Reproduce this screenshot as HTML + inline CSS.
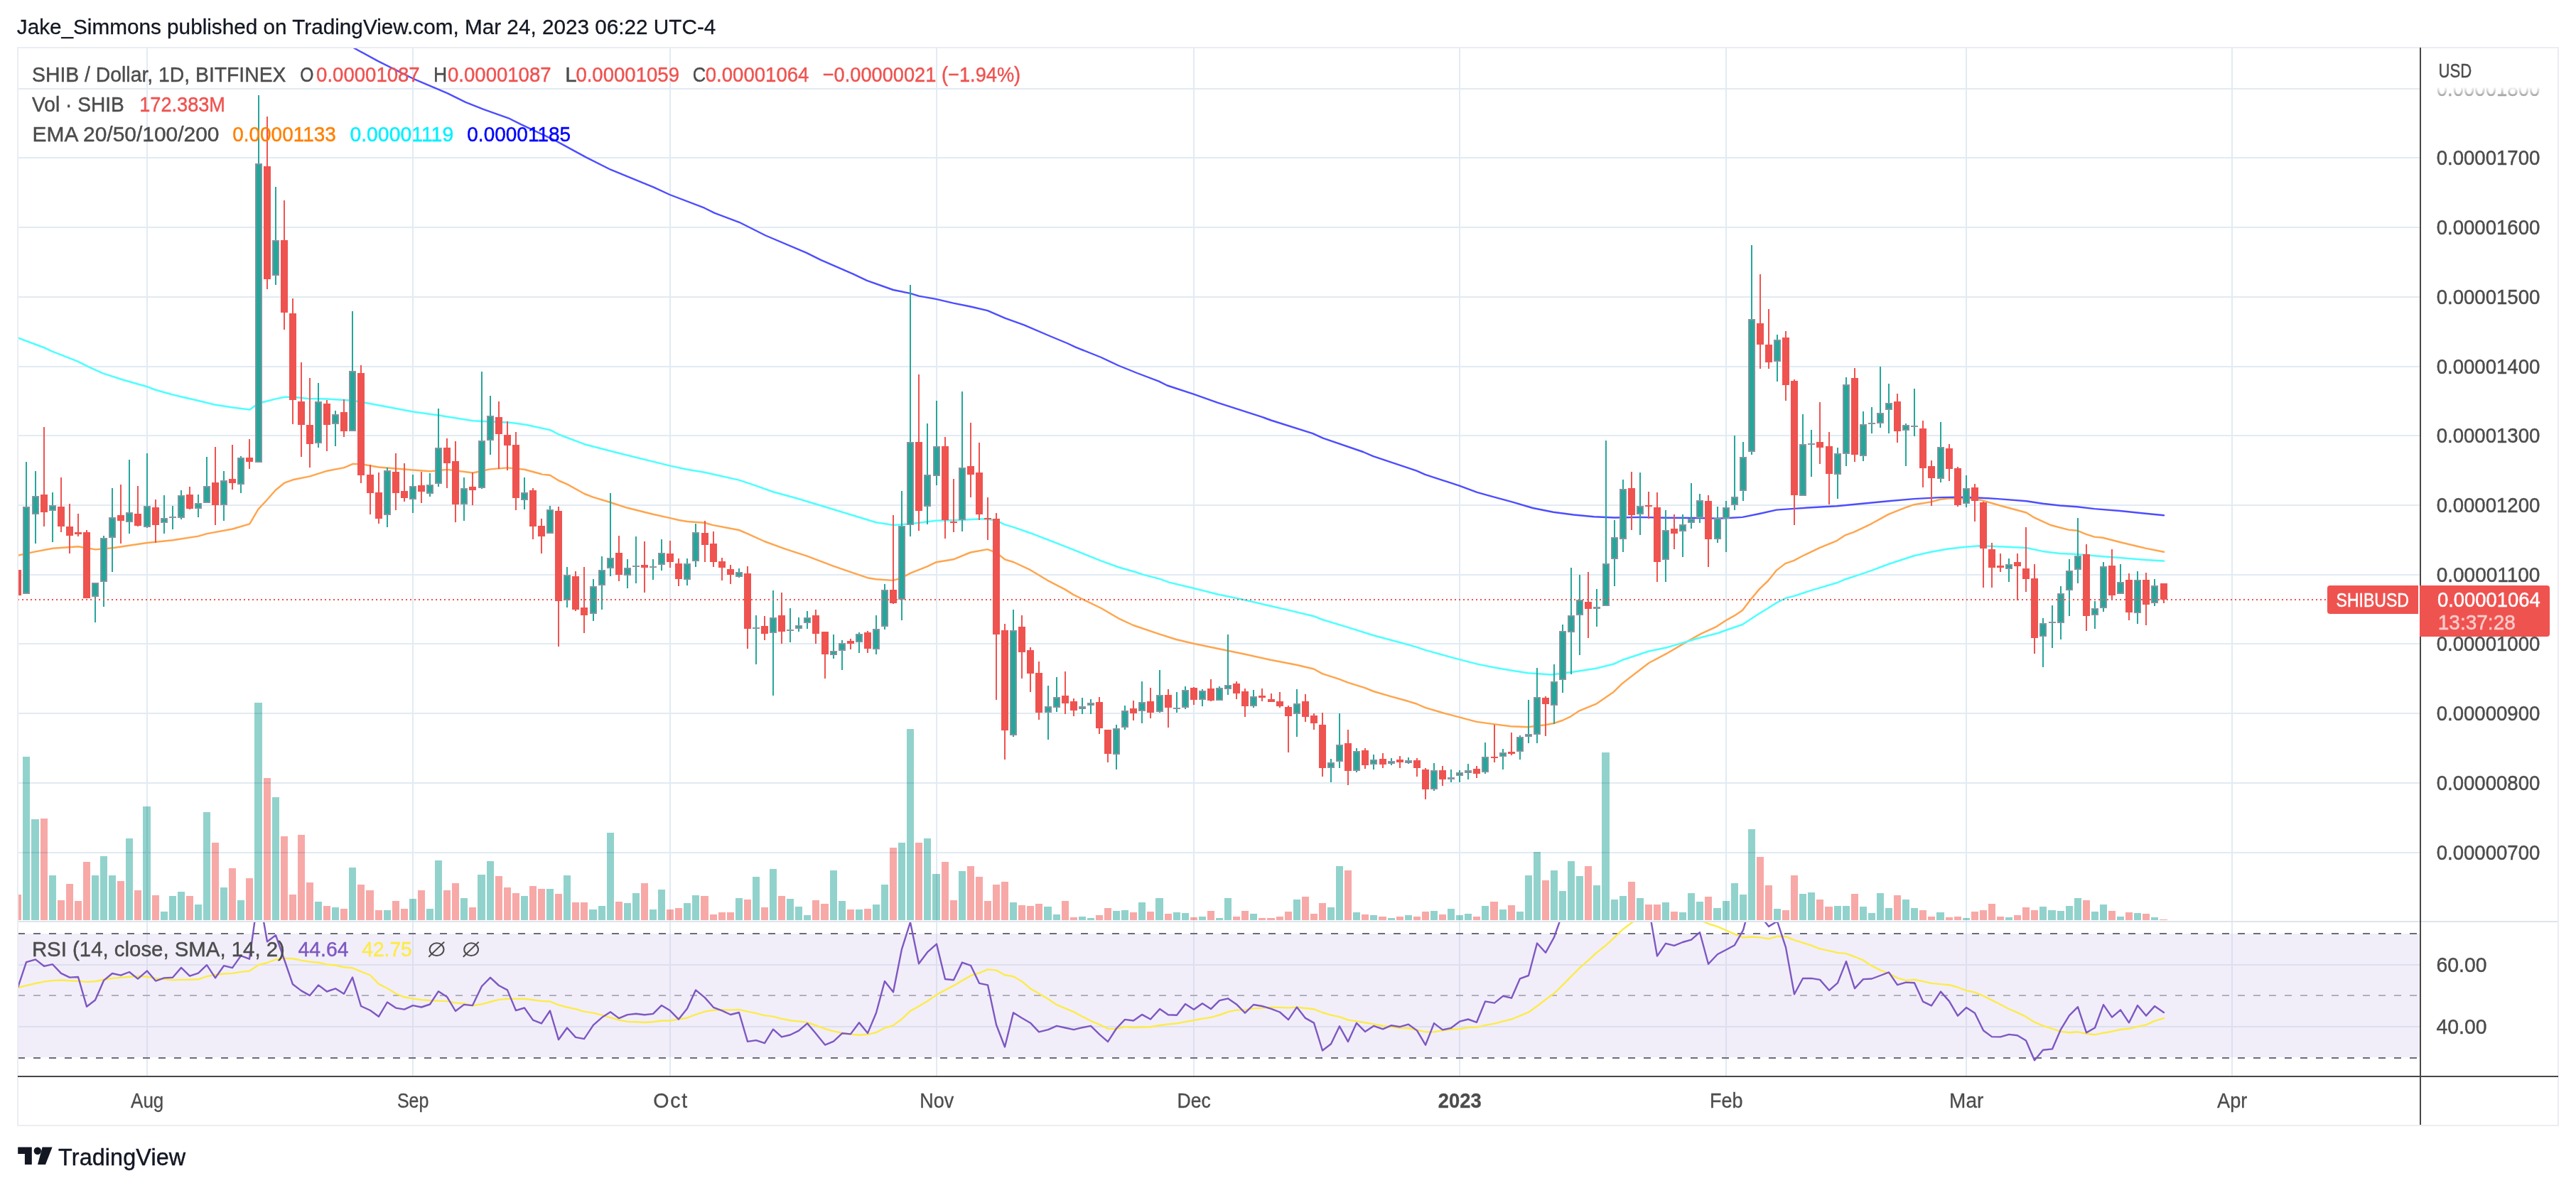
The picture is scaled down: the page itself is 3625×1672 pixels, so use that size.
<!DOCTYPE html>
<html><head><meta charset="utf-8"><title>SHIB chart</title><style>html,body{margin:0;padding:0;background:#fff}body{width:3625px;height:1672px;position:relative;overflow:hidden}</style></head><body>
<svg width="3625" height="1672" viewBox="0 0 3625 1672" style="position:absolute;left:0;top:0;font-family:'Liberation Sans',sans-serif">
<rect x="0" y="0" width="3625" height="1672" fill="#fff"/>
<defs><clipPath id="cp"><rect x="25" y="67" width="3380" height="1230"/></clipPath><clipPath id="cr"><rect x="25" y="1298" width="3380" height="216"/></clipPath></defs>
<rect x="25" y="1314" width="3380" height="174" fill="#f1eef9"/>
<g fill="#e1ebf3" shape-rendering="crispEdges">
<rect x="206" y="67" width="2" height="1447"/>
<rect x="580" y="67" width="2" height="1447"/>
<rect x="942" y="67" width="2" height="1447"/>
<rect x="1317" y="67" width="2" height="1447"/>
<rect x="1679" y="67" width="2" height="1447"/>
<rect x="2053" y="67" width="2" height="1447"/>
<rect x="2428" y="67" width="2" height="1447"/>
<rect x="2766" y="67" width="2" height="1447"/>
<rect x="3140" y="67" width="2" height="1447"/>
<rect x="25" y="1199" width="3380" height="2"/>
<rect x="25" y="1101" width="3380" height="2"/>
<rect x="25" y="1003" width="3380" height="2"/>
<rect x="25" y="905" width="3380" height="2"/>
<rect x="25" y="808" width="3380" height="2"/>
<rect x="25" y="710" width="3380" height="2"/>
<rect x="25" y="612" width="3380" height="2"/>
<rect x="25" y="515" width="3380" height="2"/>
<rect x="25" y="417" width="3380" height="2"/>
<rect x="25" y="319" width="3380" height="2"/>
<rect x="25" y="221" width="3380" height="2"/>
<rect x="25" y="124" width="3380" height="2"/>
</g>
<g fill="#dcdff0" shape-rendering="crispEdges">
<rect x="25" y="1357" width="3380" height="2"/>
<rect x="25" y="1444" width="3380" height="2"/>
<rect x="206" y="1314" width="2" height="174"/>
<rect x="580" y="1314" width="2" height="174"/>
<rect x="942" y="1314" width="2" height="174"/>
<rect x="1317" y="1314" width="2" height="174"/>
<rect x="1679" y="1314" width="2" height="174"/>
<rect x="2053" y="1314" width="2" height="174"/>
<rect x="2428" y="1314" width="2" height="174"/>
<rect x="2766" y="1314" width="2" height="174"/>
<rect x="3140" y="1314" width="2" height="174"/>
</g>
<g shape-rendering="crispEdges">
<rect x="25" y="1259.4" width="5" height="35.6" fill="#f7a9a7" fill-opacity="1" style="mix-blend-mode:multiply"/>
<rect x="32" y="1065.4" width="10" height="229.6" fill="#92d2cc" fill-opacity="1" style="mix-blend-mode:multiply"/>
<rect x="44" y="1152.5" width="11" height="142.5" fill="#92d2cc" fill-opacity="1" style="mix-blend-mode:multiply"/>
<rect x="57" y="1151.6" width="10" height="143.4" fill="#f7a9a7" fill-opacity="1" style="mix-blend-mode:multiply"/>
<rect x="69" y="1232.4" width="10" height="62.6" fill="#92d2cc" fill-opacity="1" style="mix-blend-mode:multiply"/>
<rect x="81" y="1267.3" width="10" height="27.7" fill="#f7a9a7" fill-opacity="1" style="mix-blend-mode:multiply"/>
<rect x="93" y="1243.5" width="10" height="51.5" fill="#f7a9a7" fill-opacity="1" style="mix-blend-mode:multiply"/>
<rect x="105" y="1268.3" width="10" height="26.7" fill="#f7a9a7" fill-opacity="1" style="mix-blend-mode:multiply"/>
<rect x="117" y="1213.4" width="10" height="81.6" fill="#f7a9a7" fill-opacity="1" style="mix-blend-mode:multiply"/>
<rect x="129" y="1231.5" width="10" height="63.5" fill="#92d2cc" fill-opacity="1" style="mix-blend-mode:multiply"/>
<rect x="141" y="1204.5" width="10" height="90.5" fill="#92d2cc" fill-opacity="1" style="mix-blend-mode:multiply"/>
<rect x="153" y="1232.4" width="10" height="62.6" fill="#92d2cc" fill-opacity="1" style="mix-blend-mode:multiply"/>
<rect x="165" y="1240.4" width="10" height="54.6" fill="#f7a9a7" fill-opacity="1" style="mix-blend-mode:multiply"/>
<rect x="177" y="1180.4" width="10" height="114.6" fill="#92d2cc" fill-opacity="1" style="mix-blend-mode:multiply"/>
<rect x="189" y="1253.4" width="10" height="41.6" fill="#f7a9a7" fill-opacity="1" style="mix-blend-mode:multiply"/>
<rect x="201" y="1135.4" width="11" height="159.6" fill="#92d2cc" fill-opacity="1" style="mix-blend-mode:multiply"/>
<rect x="214" y="1260.3" width="10" height="34.7" fill="#f7a9a7" fill-opacity="1" style="mix-blend-mode:multiply"/>
<rect x="226" y="1283.4" width="10" height="11.6" fill="#92d2cc" fill-opacity="1" style="mix-blend-mode:multiply"/>
<rect x="238" y="1261.3" width="10" height="33.7" fill="#92d2cc" fill-opacity="1" style="mix-blend-mode:multiply"/>
<rect x="250" y="1255.3" width="10" height="39.7" fill="#92d2cc" fill-opacity="1" style="mix-blend-mode:multiply"/>
<rect x="262" y="1261.3" width="10" height="33.7" fill="#f7a9a7" fill-opacity="1" style="mix-blend-mode:multiply"/>
<rect x="274" y="1273.3" width="10" height="21.7" fill="#92d2cc" fill-opacity="1" style="mix-blend-mode:multiply"/>
<rect x="286" y="1143.4" width="10" height="151.6" fill="#92d2cc" fill-opacity="1" style="mix-blend-mode:multiply"/>
<rect x="298" y="1185.5" width="10" height="109.5" fill="#f7a9a7" fill-opacity="1" style="mix-blend-mode:multiply"/>
<rect x="310" y="1249.3" width="10" height="45.7" fill="#92d2cc" fill-opacity="1" style="mix-blend-mode:multiply"/>
<rect x="322" y="1222.3" width="10" height="72.7" fill="#f7a9a7" fill-opacity="1" style="mix-blend-mode:multiply"/>
<rect x="334" y="1267.3" width="10" height="27.7" fill="#92d2cc" fill-opacity="1" style="mix-blend-mode:multiply"/>
<rect x="346" y="1236.3" width="10" height="58.7" fill="#f7a9a7" fill-opacity="1" style="mix-blend-mode:multiply"/>
<rect x="358" y="989.3" width="11" height="305.7" fill="#92d2cc" fill-opacity="1" style="mix-blend-mode:multiply"/>
<rect x="371" y="1094.5" width="10" height="200.5" fill="#f7a9a7" fill-opacity="1" style="mix-blend-mode:multiply"/>
<rect x="383" y="1122.4" width="10" height="172.6" fill="#92d2cc" fill-opacity="1" style="mix-blend-mode:multiply"/>
<rect x="395" y="1176.6" width="10" height="118.4" fill="#f7a9a7" fill-opacity="1" style="mix-blend-mode:multiply"/>
<rect x="407" y="1259.4" width="10" height="35.6" fill="#f7a9a7" fill-opacity="1" style="mix-blend-mode:multiply"/>
<rect x="419" y="1175.4" width="10" height="119.6" fill="#f7a9a7" fill-opacity="1" style="mix-blend-mode:multiply"/>
<rect x="431" y="1242.3" width="10" height="52.7" fill="#f7a9a7" fill-opacity="1" style="mix-blend-mode:multiply"/>
<rect x="443" y="1269.2" width="10" height="25.8" fill="#92d2cc" fill-opacity="1" style="mix-blend-mode:multiply"/>
<rect x="455" y="1275.3" width="10" height="19.7" fill="#f7a9a7" fill-opacity="1" style="mix-blend-mode:multiply"/>
<rect x="467" y="1277.4" width="10" height="17.6" fill="#92d2cc" fill-opacity="1" style="mix-blend-mode:multiply"/>
<rect x="479" y="1279.4" width="10" height="15.6" fill="#f7a9a7" fill-opacity="1" style="mix-blend-mode:multiply"/>
<rect x="491" y="1221.4" width="10" height="73.6" fill="#92d2cc" fill-opacity="1" style="mix-blend-mode:multiply"/>
<rect x="503" y="1244.5" width="10" height="50.5" fill="#f7a9a7" fill-opacity="1" style="mix-blend-mode:multiply"/>
<rect x="515" y="1253.4" width="11" height="41.6" fill="#f7a9a7" fill-opacity="1" style="mix-blend-mode:multiply"/>
<rect x="528" y="1281.3" width="10" height="13.7" fill="#f7a9a7" fill-opacity="1" style="mix-blend-mode:multiply"/>
<rect x="540" y="1281.3" width="10" height="13.7" fill="#92d2cc" fill-opacity="1" style="mix-blend-mode:multiply"/>
<rect x="552" y="1268.3" width="10" height="26.7" fill="#f7a9a7" fill-opacity="1" style="mix-blend-mode:multiply"/>
<rect x="564" y="1279.4" width="10" height="15.6" fill="#f7a9a7" fill-opacity="1" style="mix-blend-mode:multiply"/>
<rect x="576" y="1265.4" width="10" height="29.6" fill="#92d2cc" fill-opacity="1" style="mix-blend-mode:multiply"/>
<rect x="588" y="1253.4" width="10" height="41.6" fill="#f7a9a7" fill-opacity="1" style="mix-blend-mode:multiply"/>
<rect x="600" y="1279.4" width="10" height="15.6" fill="#92d2cc" fill-opacity="1" style="mix-blend-mode:multiply"/>
<rect x="612" y="1210.5" width="10" height="84.5" fill="#92d2cc" fill-opacity="1" style="mix-blend-mode:multiply"/>
<rect x="624" y="1253.4" width="10" height="41.6" fill="#f7a9a7" fill-opacity="1" style="mix-blend-mode:multiply"/>
<rect x="636" y="1243.3" width="10" height="51.7" fill="#f7a9a7" fill-opacity="1" style="mix-blend-mode:multiply"/>
<rect x="648" y="1264.2" width="10" height="30.8" fill="#92d2cc" fill-opacity="1" style="mix-blend-mode:multiply"/>
<rect x="660" y="1277.4" width="10" height="17.6" fill="#f7a9a7" fill-opacity="1" style="mix-blend-mode:multiply"/>
<rect x="672" y="1230.5" width="11" height="64.5" fill="#92d2cc" fill-opacity="1" style="mix-blend-mode:multiply"/>
<rect x="685" y="1212.4" width="10" height="82.6" fill="#92d2cc" fill-opacity="1" style="mix-blend-mode:multiply"/>
<rect x="697" y="1233.4" width="10" height="61.6" fill="#f7a9a7" fill-opacity="1" style="mix-blend-mode:multiply"/>
<rect x="709" y="1249.3" width="10" height="45.7" fill="#f7a9a7" fill-opacity="1" style="mix-blend-mode:multiply"/>
<rect x="721" y="1257.2" width="10" height="37.8" fill="#f7a9a7" fill-opacity="1" style="mix-blend-mode:multiply"/>
<rect x="733" y="1261.3" width="10" height="33.7" fill="#92d2cc" fill-opacity="1" style="mix-blend-mode:multiply"/>
<rect x="745" y="1247.3" width="10" height="47.7" fill="#f7a9a7" fill-opacity="1" style="mix-blend-mode:multiply"/>
<rect x="757" y="1251.2" width="10" height="43.8" fill="#f7a9a7" fill-opacity="1" style="mix-blend-mode:multiply"/>
<rect x="769" y="1251.2" width="10" height="43.8" fill="#92d2cc" fill-opacity="1" style="mix-blend-mode:multiply"/>
<rect x="781" y="1258.2" width="10" height="36.8" fill="#f7a9a7" fill-opacity="1" style="mix-blend-mode:multiply"/>
<rect x="793" y="1231.5" width="10" height="63.5" fill="#92d2cc" fill-opacity="1" style="mix-blend-mode:multiply"/>
<rect x="805" y="1270.2" width="10" height="24.8" fill="#f7a9a7" fill-opacity="1" style="mix-blend-mode:multiply"/>
<rect x="817" y="1270.2" width="10" height="24.8" fill="#f7a9a7" fill-opacity="1" style="mix-blend-mode:multiply"/>
<rect x="829" y="1280.3" width="11" height="14.7" fill="#92d2cc" fill-opacity="1" style="mix-blend-mode:multiply"/>
<rect x="842" y="1275.3" width="10" height="19.7" fill="#92d2cc" fill-opacity="1" style="mix-blend-mode:multiply"/>
<rect x="854" y="1172.3" width="10" height="122.7" fill="#92d2cc" fill-opacity="1" style="mix-blend-mode:multiply"/>
<rect x="866" y="1269.2" width="10" height="25.8" fill="#f7a9a7" fill-opacity="1" style="mix-blend-mode:multiply"/>
<rect x="878" y="1271.4" width="10" height="23.6" fill="#92d2cc" fill-opacity="1" style="mix-blend-mode:multiply"/>
<rect x="890" y="1257.2" width="10" height="37.8" fill="#92d2cc" fill-opacity="1" style="mix-blend-mode:multiply"/>
<rect x="902" y="1243.3" width="10" height="51.7" fill="#f7a9a7" fill-opacity="1" style="mix-blend-mode:multiply"/>
<rect x="914" y="1280.3" width="10" height="14.7" fill="#92d2cc" fill-opacity="1" style="mix-blend-mode:multiply"/>
<rect x="926" y="1252.2" width="10" height="42.8" fill="#92d2cc" fill-opacity="1" style="mix-blend-mode:multiply"/>
<rect x="938" y="1280.3" width="10" height="14.7" fill="#f7a9a7" fill-opacity="1" style="mix-blend-mode:multiply"/>
<rect x="950" y="1278.4" width="10" height="16.6" fill="#f7a9a7" fill-opacity="1" style="mix-blend-mode:multiply"/>
<rect x="962" y="1271.4" width="10" height="23.6" fill="#92d2cc" fill-opacity="1" style="mix-blend-mode:multiply"/>
<rect x="974" y="1260.3" width="10" height="34.7" fill="#92d2cc" fill-opacity="1" style="mix-blend-mode:multiply"/>
<rect x="986" y="1261.3" width="11" height="33.7" fill="#f7a9a7" fill-opacity="1" style="mix-blend-mode:multiply"/>
<rect x="999" y="1287.3" width="10" height="7.7" fill="#f7a9a7" fill-opacity="1" style="mix-blend-mode:multiply"/>
<rect x="1011" y="1284.4" width="10" height="10.6" fill="#f7a9a7" fill-opacity="1" style="mix-blend-mode:multiply"/>
<rect x="1023" y="1284.4" width="10" height="10.6" fill="#f7a9a7" fill-opacity="1" style="mix-blend-mode:multiply"/>
<rect x="1035" y="1264.2" width="10" height="30.8" fill="#92d2cc" fill-opacity="1" style="mix-blend-mode:multiply"/>
<rect x="1047" y="1266.1" width="10" height="28.9" fill="#f7a9a7" fill-opacity="1" style="mix-blend-mode:multiply"/>
<rect x="1059" y="1234.3" width="10" height="60.7" fill="#92d2cc" fill-opacity="1" style="mix-blend-mode:multiply"/>
<rect x="1071" y="1277.4" width="10" height="17.6" fill="#f7a9a7" fill-opacity="1" style="mix-blend-mode:multiply"/>
<rect x="1083" y="1223.3" width="10" height="71.7" fill="#92d2cc" fill-opacity="1" style="mix-blend-mode:multiply"/>
<rect x="1095" y="1261.3" width="10" height="33.7" fill="#f7a9a7" fill-opacity="1" style="mix-blend-mode:multiply"/>
<rect x="1107" y="1265.4" width="10" height="29.6" fill="#92d2cc" fill-opacity="1" style="mix-blend-mode:multiply"/>
<rect x="1119" y="1276.2" width="10" height="18.8" fill="#92d2cc" fill-opacity="1" style="mix-blend-mode:multiply"/>
<rect x="1131" y="1288.3" width="10" height="6.7" fill="#92d2cc" fill-opacity="1" style="mix-blend-mode:multiply"/>
<rect x="1143" y="1267.3" width="10" height="27.7" fill="#f7a9a7" fill-opacity="1" style="mix-blend-mode:multiply"/>
<rect x="1155" y="1272.4" width="11" height="22.6" fill="#f7a9a7" fill-opacity="1" style="mix-blend-mode:multiply"/>
<rect x="1168" y="1224.5" width="10" height="70.5" fill="#92d2cc" fill-opacity="1" style="mix-blend-mode:multiply"/>
<rect x="1180" y="1268.3" width="10" height="26.7" fill="#92d2cc" fill-opacity="1" style="mix-blend-mode:multiply"/>
<rect x="1192" y="1280.3" width="10" height="14.7" fill="#f7a9a7" fill-opacity="1" style="mix-blend-mode:multiply"/>
<rect x="1204" y="1280.3" width="10" height="14.7" fill="#92d2cc" fill-opacity="1" style="mix-blend-mode:multiply"/>
<rect x="1216" y="1279.4" width="10" height="15.6" fill="#f7a9a7" fill-opacity="1" style="mix-blend-mode:multiply"/>
<rect x="1228" y="1273.3" width="10" height="21.7" fill="#92d2cc" fill-opacity="1" style="mix-blend-mode:multiply"/>
<rect x="1240" y="1244.5" width="10" height="50.5" fill="#92d2cc" fill-opacity="1" style="mix-blend-mode:multiply"/>
<rect x="1252" y="1192.5" width="10" height="102.5" fill="#f7a9a7" fill-opacity="1" style="mix-blend-mode:multiply"/>
<rect x="1264" y="1185.5" width="10" height="109.5" fill="#92d2cc" fill-opacity="1" style="mix-blend-mode:multiply"/>
<rect x="1276" y="1025.7" width="10" height="269.3" fill="#92d2cc" fill-opacity="1" style="mix-blend-mode:multiply"/>
<rect x="1288" y="1185.5" width="10" height="109.5" fill="#f7a9a7" fill-opacity="1" style="mix-blend-mode:multiply"/>
<rect x="1300" y="1180.4" width="10" height="114.6" fill="#92d2cc" fill-opacity="1" style="mix-blend-mode:multiply"/>
<rect x="1312" y="1229.5" width="11" height="65.5" fill="#92d2cc" fill-opacity="1" style="mix-blend-mode:multiply"/>
<rect x="1325" y="1213.4" width="10" height="81.6" fill="#f7a9a7" fill-opacity="1" style="mix-blend-mode:multiply"/>
<rect x="1337" y="1267.3" width="10" height="27.7" fill="#f7a9a7" fill-opacity="1" style="mix-blend-mode:multiply"/>
<rect x="1349" y="1226.4" width="10" height="68.6" fill="#92d2cc" fill-opacity="1" style="mix-blend-mode:multiply"/>
<rect x="1361" y="1218.5" width="10" height="76.5" fill="#f7a9a7" fill-opacity="1" style="mix-blend-mode:multiply"/>
<rect x="1373" y="1234.3" width="10" height="60.7" fill="#f7a9a7" fill-opacity="1" style="mix-blend-mode:multiply"/>
<rect x="1385" y="1268.3" width="10" height="26.7" fill="#f7a9a7" fill-opacity="1" style="mix-blend-mode:multiply"/>
<rect x="1397" y="1244.5" width="10" height="50.5" fill="#f7a9a7" fill-opacity="1" style="mix-blend-mode:multiply"/>
<rect x="1409" y="1241.3" width="10" height="53.7" fill="#f7a9a7" fill-opacity="1" style="mix-blend-mode:multiply"/>
<rect x="1421" y="1270.2" width="10" height="24.8" fill="#92d2cc" fill-opacity="1" style="mix-blend-mode:multiply"/>
<rect x="1433" y="1274.3" width="10" height="20.7" fill="#f7a9a7" fill-opacity="1" style="mix-blend-mode:multiply"/>
<rect x="1445" y="1275.3" width="10" height="19.7" fill="#f7a9a7" fill-opacity="1" style="mix-blend-mode:multiply"/>
<rect x="1457" y="1272.4" width="10" height="22.6" fill="#f7a9a7" fill-opacity="1" style="mix-blend-mode:multiply"/>
<rect x="1469" y="1276.2" width="11" height="18.8" fill="#92d2cc" fill-opacity="1" style="mix-blend-mode:multiply"/>
<rect x="1482" y="1287.3" width="10" height="7.7" fill="#92d2cc" fill-opacity="1" style="mix-blend-mode:multiply"/>
<rect x="1494" y="1268.3" width="10" height="26.7" fill="#f7a9a7" fill-opacity="1" style="mix-blend-mode:multiply"/>
<rect x="1506" y="1291.4" width="10" height="3.6" fill="#f7a9a7" fill-opacity="1" style="mix-blend-mode:multiply"/>
<rect x="1518" y="1290.4" width="10" height="4.6" fill="#92d2cc" fill-opacity="1" style="mix-blend-mode:multiply"/>
<rect x="1530" y="1292.4" width="10" height="2.6" fill="#92d2cc" fill-opacity="1" style="mix-blend-mode:multiply"/>
<rect x="1542" y="1288.3" width="10" height="6.7" fill="#f7a9a7" fill-opacity="1" style="mix-blend-mode:multiply"/>
<rect x="1554" y="1278.4" width="10" height="16.6" fill="#f7a9a7" fill-opacity="1" style="mix-blend-mode:multiply"/>
<rect x="1566" y="1282.2" width="10" height="12.8" fill="#92d2cc" fill-opacity="1" style="mix-blend-mode:multiply"/>
<rect x="1578" y="1281.3" width="10" height="13.7" fill="#92d2cc" fill-opacity="1" style="mix-blend-mode:multiply"/>
<rect x="1590" y="1284.4" width="10" height="10.6" fill="#f7a9a7" fill-opacity="1" style="mix-blend-mode:multiply"/>
<rect x="1602" y="1270.2" width="10" height="24.8" fill="#92d2cc" fill-opacity="1" style="mix-blend-mode:multiply"/>
<rect x="1614" y="1283.4" width="10" height="11.6" fill="#f7a9a7" fill-opacity="1" style="mix-blend-mode:multiply"/>
<rect x="1626" y="1264.2" width="11" height="30.8" fill="#92d2cc" fill-opacity="1" style="mix-blend-mode:multiply"/>
<rect x="1639" y="1286.3" width="10" height="8.7" fill="#f7a9a7" fill-opacity="1" style="mix-blend-mode:multiply"/>
<rect x="1651" y="1284.4" width="10" height="10.6" fill="#92d2cc" fill-opacity="1" style="mix-blend-mode:multiply"/>
<rect x="1663" y="1285.4" width="10" height="9.6" fill="#92d2cc" fill-opacity="1" style="mix-blend-mode:multiply"/>
<rect x="1675" y="1291.4" width="10" height="3.6" fill="#f7a9a7" fill-opacity="1" style="mix-blend-mode:multiply"/>
<rect x="1687" y="1290.4" width="10" height="4.6" fill="#92d2cc" fill-opacity="1" style="mix-blend-mode:multiply"/>
<rect x="1699" y="1282.2" width="10" height="12.8" fill="#f7a9a7" fill-opacity="1" style="mix-blend-mode:multiply"/>
<rect x="1711" y="1292.4" width="10" height="2.6" fill="#92d2cc" fill-opacity="1" style="mix-blend-mode:multiply"/>
<rect x="1723" y="1264.2" width="10" height="30.8" fill="#92d2cc" fill-opacity="1" style="mix-blend-mode:multiply"/>
<rect x="1735" y="1290.4" width="10" height="4.6" fill="#f7a9a7" fill-opacity="1" style="mix-blend-mode:multiply"/>
<rect x="1747" y="1282.2" width="10" height="12.8" fill="#f7a9a7" fill-opacity="1" style="mix-blend-mode:multiply"/>
<rect x="1759" y="1286.3" width="10" height="8.7" fill="#92d2cc" fill-opacity="1" style="mix-blend-mode:multiply"/>
<rect x="1771" y="1292.4" width="10" height="2.6" fill="#f7a9a7" fill-opacity="1" style="mix-blend-mode:multiply"/>
<rect x="1783" y="1292.4" width="11" height="2.6" fill="#f7a9a7" fill-opacity="1" style="mix-blend-mode:multiply"/>
<rect x="1796" y="1290.4" width="10" height="4.6" fill="#f7a9a7" fill-opacity="1" style="mix-blend-mode:multiply"/>
<rect x="1808" y="1283.4" width="10" height="11.6" fill="#f7a9a7" fill-opacity="1" style="mix-blend-mode:multiply"/>
<rect x="1820" y="1266.4" width="10" height="28.6" fill="#92d2cc" fill-opacity="1" style="mix-blend-mode:multiply"/>
<rect x="1832" y="1262.3" width="10" height="32.7" fill="#f7a9a7" fill-opacity="1" style="mix-blend-mode:multiply"/>
<rect x="1844" y="1286.3" width="10" height="8.7" fill="#f7a9a7" fill-opacity="1" style="mix-blend-mode:multiply"/>
<rect x="1856" y="1271.4" width="10" height="23.6" fill="#f7a9a7" fill-opacity="1" style="mix-blend-mode:multiply"/>
<rect x="1868" y="1277.4" width="10" height="17.6" fill="#92d2cc" fill-opacity="1" style="mix-blend-mode:multiply"/>
<rect x="1880" y="1218.5" width="10" height="76.5" fill="#92d2cc" fill-opacity="1" style="mix-blend-mode:multiply"/>
<rect x="1892" y="1225.4" width="10" height="69.6" fill="#f7a9a7" fill-opacity="1" style="mix-blend-mode:multiply"/>
<rect x="1904" y="1284.4" width="10" height="10.6" fill="#92d2cc" fill-opacity="1" style="mix-blend-mode:multiply"/>
<rect x="1916" y="1287.3" width="10" height="7.7" fill="#f7a9a7" fill-opacity="1" style="mix-blend-mode:multiply"/>
<rect x="1928" y="1288.3" width="10" height="6.7" fill="#92d2cc" fill-opacity="1" style="mix-blend-mode:multiply"/>
<rect x="1940" y="1289.5" width="11" height="5.5" fill="#f7a9a7" fill-opacity="1" style="mix-blend-mode:multiply"/>
<rect x="1953" y="1292.4" width="10" height="2.6" fill="#92d2cc" fill-opacity="1" style="mix-blend-mode:multiply"/>
<rect x="1965" y="1289.5" width="10" height="5.5" fill="#f7a9a7" fill-opacity="1" style="mix-blend-mode:multiply"/>
<rect x="1977" y="1288.3" width="10" height="6.7" fill="#92d2cc" fill-opacity="1" style="mix-blend-mode:multiply"/>
<rect x="1989" y="1289.5" width="10" height="5.5" fill="#f7a9a7" fill-opacity="1" style="mix-blend-mode:multiply"/>
<rect x="2001" y="1283.4" width="10" height="11.6" fill="#f7a9a7" fill-opacity="1" style="mix-blend-mode:multiply"/>
<rect x="2013" y="1282.2" width="10" height="12.8" fill="#92d2cc" fill-opacity="1" style="mix-blend-mode:multiply"/>
<rect x="2025" y="1287.3" width="10" height="7.7" fill="#f7a9a7" fill-opacity="1" style="mix-blend-mode:multiply"/>
<rect x="2037" y="1279.4" width="10" height="15.6" fill="#92d2cc" fill-opacity="1" style="mix-blend-mode:multiply"/>
<rect x="2049" y="1288.3" width="10" height="6.7" fill="#92d2cc" fill-opacity="1" style="mix-blend-mode:multiply"/>
<rect x="2061" y="1286.3" width="10" height="8.7" fill="#92d2cc" fill-opacity="1" style="mix-blend-mode:multiply"/>
<rect x="2073" y="1289.5" width="10" height="5.5" fill="#f7a9a7" fill-opacity="1" style="mix-blend-mode:multiply"/>
<rect x="2085" y="1275.3" width="10" height="19.7" fill="#92d2cc" fill-opacity="1" style="mix-blend-mode:multiply"/>
<rect x="2097" y="1269.2" width="11" height="25.8" fill="#f7a9a7" fill-opacity="1" style="mix-blend-mode:multiply"/>
<rect x="2110" y="1280.3" width="10" height="14.7" fill="#92d2cc" fill-opacity="1" style="mix-blend-mode:multiply"/>
<rect x="2122" y="1274.3" width="10" height="20.7" fill="#f7a9a7" fill-opacity="1" style="mix-blend-mode:multiply"/>
<rect x="2134" y="1283.4" width="10" height="11.6" fill="#92d2cc" fill-opacity="1" style="mix-blend-mode:multiply"/>
<rect x="2146" y="1232.4" width="10" height="62.6" fill="#92d2cc" fill-opacity="1" style="mix-blend-mode:multiply"/>
<rect x="2158" y="1198.5" width="10" height="96.5" fill="#92d2cc" fill-opacity="1" style="mix-blend-mode:multiply"/>
<rect x="2170" y="1239.4" width="10" height="55.6" fill="#f7a9a7" fill-opacity="1" style="mix-blend-mode:multiply"/>
<rect x="2182" y="1224.5" width="10" height="70.5" fill="#92d2cc" fill-opacity="1" style="mix-blend-mode:multiply"/>
<rect x="2194" y="1254.3" width="10" height="40.7" fill="#92d2cc" fill-opacity="1" style="mix-blend-mode:multiply"/>
<rect x="2206" y="1212.4" width="10" height="82.6" fill="#92d2cc" fill-opacity="1" style="mix-blend-mode:multiply"/>
<rect x="2218" y="1233.4" width="10" height="61.6" fill="#92d2cc" fill-opacity="1" style="mix-blend-mode:multiply"/>
<rect x="2230" y="1219.4" width="10" height="75.6" fill="#f7a9a7" fill-opacity="1" style="mix-blend-mode:multiply"/>
<rect x="2242" y="1246.4" width="10" height="48.6" fill="#92d2cc" fill-opacity="1" style="mix-blend-mode:multiply"/>
<rect x="2254" y="1059.4" width="11" height="235.6" fill="#92d2cc" fill-opacity="1" style="mix-blend-mode:multiply"/>
<rect x="2267" y="1266.4" width="10" height="28.6" fill="#92d2cc" fill-opacity="1" style="mix-blend-mode:multiply"/>
<rect x="2279" y="1261.3" width="10" height="33.7" fill="#92d2cc" fill-opacity="1" style="mix-blend-mode:multiply"/>
<rect x="2291" y="1241.3" width="10" height="53.7" fill="#f7a9a7" fill-opacity="1" style="mix-blend-mode:multiply"/>
<rect x="2303" y="1264.2" width="10" height="30.8" fill="#92d2cc" fill-opacity="1" style="mix-blend-mode:multiply"/>
<rect x="2315" y="1273.3" width="10" height="21.7" fill="#f7a9a7" fill-opacity="1" style="mix-blend-mode:multiply"/>
<rect x="2327" y="1273.3" width="10" height="21.7" fill="#f7a9a7" fill-opacity="1" style="mix-blend-mode:multiply"/>
<rect x="2339" y="1270.2" width="10" height="24.8" fill="#92d2cc" fill-opacity="1" style="mix-blend-mode:multiply"/>
<rect x="2351" y="1283.4" width="10" height="11.6" fill="#f7a9a7" fill-opacity="1" style="mix-blend-mode:multiply"/>
<rect x="2363" y="1284.4" width="10" height="10.6" fill="#92d2cc" fill-opacity="1" style="mix-blend-mode:multiply"/>
<rect x="2375" y="1257.2" width="10" height="37.8" fill="#92d2cc" fill-opacity="1" style="mix-blend-mode:multiply"/>
<rect x="2387" y="1269.2" width="10" height="25.8" fill="#92d2cc" fill-opacity="1" style="mix-blend-mode:multiply"/>
<rect x="2399" y="1262.3" width="10" height="32.7" fill="#f7a9a7" fill-opacity="1" style="mix-blend-mode:multiply"/>
<rect x="2411" y="1278.4" width="11" height="16.6" fill="#92d2cc" fill-opacity="1" style="mix-blend-mode:multiply"/>
<rect x="2424" y="1268.3" width="10" height="26.7" fill="#92d2cc" fill-opacity="1" style="mix-blend-mode:multiply"/>
<rect x="2436" y="1242.5" width="10" height="52.5" fill="#92d2cc" fill-opacity="1" style="mix-blend-mode:multiply"/>
<rect x="2448" y="1259.4" width="10" height="35.6" fill="#92d2cc" fill-opacity="1" style="mix-blend-mode:multiply"/>
<rect x="2460" y="1166.5" width="10" height="128.5" fill="#92d2cc" fill-opacity="1" style="mix-blend-mode:multiply"/>
<rect x="2472" y="1205.5" width="10" height="89.5" fill="#f7a9a7" fill-opacity="1" style="mix-blend-mode:multiply"/>
<rect x="2484" y="1246.4" width="10" height="48.6" fill="#f7a9a7" fill-opacity="1" style="mix-blend-mode:multiply"/>
<rect x="2496" y="1279.4" width="10" height="15.6" fill="#92d2cc" fill-opacity="1" style="mix-blend-mode:multiply"/>
<rect x="2508" y="1281.3" width="10" height="13.7" fill="#f7a9a7" fill-opacity="1" style="mix-blend-mode:multiply"/>
<rect x="2520" y="1231.5" width="10" height="63.5" fill="#f7a9a7" fill-opacity="1" style="mix-blend-mode:multiply"/>
<rect x="2532" y="1258.4" width="10" height="36.6" fill="#92d2cc" fill-opacity="1" style="mix-blend-mode:multiply"/>
<rect x="2544" y="1256.2" width="10" height="38.8" fill="#92d2cc" fill-opacity="1" style="mix-blend-mode:multiply"/>
<rect x="2556" y="1266.4" width="10" height="28.6" fill="#f7a9a7" fill-opacity="1" style="mix-blend-mode:multiply"/>
<rect x="2568" y="1276.2" width="11" height="18.8" fill="#f7a9a7" fill-opacity="1" style="mix-blend-mode:multiply"/>
<rect x="2581" y="1275.3" width="10" height="19.7" fill="#92d2cc" fill-opacity="1" style="mix-blend-mode:multiply"/>
<rect x="2593" y="1275.3" width="10" height="19.7" fill="#92d2cc" fill-opacity="1" style="mix-blend-mode:multiply"/>
<rect x="2605" y="1258.4" width="10" height="36.6" fill="#f7a9a7" fill-opacity="1" style="mix-blend-mode:multiply"/>
<rect x="2617" y="1276.2" width="10" height="18.8" fill="#92d2cc" fill-opacity="1" style="mix-blend-mode:multiply"/>
<rect x="2629" y="1285.4" width="10" height="9.6" fill="#92d2cc" fill-opacity="1" style="mix-blend-mode:multiply"/>
<rect x="2641" y="1257.2" width="10" height="37.8" fill="#92d2cc" fill-opacity="1" style="mix-blend-mode:multiply"/>
<rect x="2653" y="1278.4" width="10" height="16.6" fill="#92d2cc" fill-opacity="1" style="mix-blend-mode:multiply"/>
<rect x="2665" y="1260.3" width="10" height="34.7" fill="#f7a9a7" fill-opacity="1" style="mix-blend-mode:multiply"/>
<rect x="2677" y="1266.4" width="10" height="28.6" fill="#92d2cc" fill-opacity="1" style="mix-blend-mode:multiply"/>
<rect x="2689" y="1278.4" width="10" height="16.6" fill="#92d2cc" fill-opacity="1" style="mix-blend-mode:multiply"/>
<rect x="2701" y="1281.3" width="10" height="13.7" fill="#f7a9a7" fill-opacity="1" style="mix-blend-mode:multiply"/>
<rect x="2713" y="1289.5" width="10" height="5.5" fill="#f7a9a7" fill-opacity="1" style="mix-blend-mode:multiply"/>
<rect x="2725" y="1284.4" width="11" height="10.6" fill="#92d2cc" fill-opacity="1" style="mix-blend-mode:multiply"/>
<rect x="2738" y="1291.4" width="10" height="3.6" fill="#f7a9a7" fill-opacity="1" style="mix-blend-mode:multiply"/>
<rect x="2750" y="1289.5" width="10" height="5.5" fill="#f7a9a7" fill-opacity="1" style="mix-blend-mode:multiply"/>
<rect x="2762" y="1292.4" width="10" height="2.6" fill="#92d2cc" fill-opacity="1" style="mix-blend-mode:multiply"/>
<rect x="2774" y="1283.4" width="10" height="11.6" fill="#f7a9a7" fill-opacity="1" style="mix-blend-mode:multiply"/>
<rect x="2786" y="1281.3" width="10" height="13.7" fill="#f7a9a7" fill-opacity="1" style="mix-blend-mode:multiply"/>
<rect x="2798" y="1272.4" width="10" height="22.6" fill="#f7a9a7" fill-opacity="1" style="mix-blend-mode:multiply"/>
<rect x="2810" y="1290.4" width="10" height="4.6" fill="#f7a9a7" fill-opacity="1" style="mix-blend-mode:multiply"/>
<rect x="2822" y="1291.4" width="10" height="3.6" fill="#92d2cc" fill-opacity="1" style="mix-blend-mode:multiply"/>
<rect x="2834" y="1288.3" width="10" height="6.7" fill="#f7a9a7" fill-opacity="1" style="mix-blend-mode:multiply"/>
<rect x="2846" y="1277.4" width="10" height="17.6" fill="#f7a9a7" fill-opacity="1" style="mix-blend-mode:multiply"/>
<rect x="2858" y="1281.3" width="10" height="13.7" fill="#f7a9a7" fill-opacity="1" style="mix-blend-mode:multiply"/>
<rect x="2870" y="1276.2" width="10" height="18.8" fill="#92d2cc" fill-opacity="1" style="mix-blend-mode:multiply"/>
<rect x="2882" y="1281.3" width="11" height="13.7" fill="#92d2cc" fill-opacity="1" style="mix-blend-mode:multiply"/>
<rect x="2895" y="1282.2" width="10" height="12.8" fill="#92d2cc" fill-opacity="1" style="mix-blend-mode:multiply"/>
<rect x="2907" y="1275.3" width="10" height="19.7" fill="#92d2cc" fill-opacity="1" style="mix-blend-mode:multiply"/>
<rect x="2919" y="1264.2" width="10" height="30.8" fill="#92d2cc" fill-opacity="1" style="mix-blend-mode:multiply"/>
<rect x="2931" y="1267.3" width="10" height="27.7" fill="#f7a9a7" fill-opacity="1" style="mix-blend-mode:multiply"/>
<rect x="2943" y="1283.4" width="10" height="11.6" fill="#92d2cc" fill-opacity="1" style="mix-blend-mode:multiply"/>
<rect x="2955" y="1273.3" width="10" height="21.7" fill="#92d2cc" fill-opacity="1" style="mix-blend-mode:multiply"/>
<rect x="2967" y="1282.2" width="10" height="12.8" fill="#f7a9a7" fill-opacity="1" style="mix-blend-mode:multiply"/>
<rect x="2979" y="1289.5" width="10" height="5.5" fill="#92d2cc" fill-opacity="1" style="mix-blend-mode:multiply"/>
<rect x="2991" y="1284.4" width="10" height="10.6" fill="#f7a9a7" fill-opacity="1" style="mix-blend-mode:multiply"/>
<rect x="3003" y="1285.4" width="10" height="9.6" fill="#92d2cc" fill-opacity="1" style="mix-blend-mode:multiply"/>
<rect x="3015" y="1286.3" width="10" height="8.7" fill="#f7a9a7" fill-opacity="1" style="mix-blend-mode:multiply"/>
<rect x="3027" y="1291.4" width="10" height="3.6" fill="#92d2cc" fill-opacity="1" style="mix-blend-mode:multiply"/>
<rect x="3039" y="1293.6" width="11" height="1.4" fill="#f7a9a7" fill-opacity="1" style="mix-blend-mode:multiply"/>
</g>
<polyline points="24.9,781.7 48.6,776.6 74.4,771.7 110.1,769.2 122.1,771.2 134.4,773.4 158.2,771.2 206.8,764.0 243.2,760.3 279.2,754.6 291.2,751.1 327.3,744.5 351.3,737.4 363.5,716.6 375.8,703.5 387.8,689.8 400.2,679.7 412.1,675.3 436.1,670.4 460.5,662.7 484.5,658.1 496.5,652.9 508.8,653.2 532.8,657.5 581.2,661.5 605.2,663.2 629.3,660.9 665.6,665.5 689.6,660.4 714.0,658.4 738.0,660.7 762.0,667.3 774.4,669.0 786.4,676.5 798.4,681.6 822.4,695.0 834.4,699.6 858.8,707.0 882.8,714.8 918.9,723.7 943.2,729.1 955.2,732.0 967.2,734.0 991.5,735.7 1003.5,739.1 1039.9,746.0 1051.9,751.1 1075.9,762.0 1105.8,772.9 1136.4,782.9 1172.5,796.6 1208.8,809.2 1220.8,813.2 1232.8,815.2 1256.9,816.9 1268.9,813.3 1281.2,806.6 1305.2,797.2 1317.5,791.2 1341.6,787.3 1365.6,777.5 1389.6,773.1 1401.9,777.6 1414.0,787.3 1426.0,791.0 1450.0,802.2 1474.1,816.8 1498.4,829.4 1510.4,836.9 1549.6,856.0 1574.0,870.3 1594.8,880.0 1631.2,892.3 1655.2,900.0 1679.5,905.8 1715.6,913.2 1751.9,920.7 1788.0,928.7 1824.4,935.8 1848.7,941.5 1860.7,948.1 1884.7,955.9 1896.8,960.7 1920.8,968.2 1932.8,973.0 1957.1,980.2 1981.2,986.8 1993.2,990.5 2005.5,995.9 2029.5,1003.0 2053.6,1009.4 2077.9,1015.9 2101.9,1019.1 2126.2,1022.2 2150.3,1023.3 2174.5,1020.3 2186.5,1018.0 2198.5,1014.0 2210.5,1008.3 2222.5,1000.3 2246.9,990.3 2270.9,973.7 2283.2,961.7 2320.4,933.0 2344.7,920.2 2369.0,905.9 2393.4,892.1 2415.7,881.8 2428.6,873.2 2440.0,866.9 2452.0,858.9 2464.0,843.2 2476.0,828.9 2488.0,817.5 2500.0,802.6 2512.4,793.1 2524.5,788.8 2536.5,782.5 2560.8,770.8 2584.8,761.1 2596.9,753.1 2608.9,748.8 2633.2,737.3 2657.5,723.9 2681.3,714.4 2693.3,710.2 2717.6,706.4 2729.6,703.0 2741.6,701.5 2765.7,701.5 2777.8,702.0 2790.0,704.3 2814.4,711.5 2851.6,721.5 2863.0,728.7 2886.5,739.3 2910.8,745.6 2923.0,746.7 2934.8,751.6 2947.4,755.6 2958.9,756.7 2983.2,763.0 3007.2,768.8 3019.3,771.6 3045.0,776.8" fill="none" stroke="#ffa54d" stroke-width="2.45" stroke-linejoin="round" stroke-linecap="round" clip-path="url(#cp)" stroke-opacity="1"/>
<polyline points="25.1,475.5 62.7,489.5 73.0,494.3 108.8,508.3 125.9,516.9 144.7,525.4 173.7,534.8 207.0,544.2 218.1,548.5 242.0,555.3 276.2,563.3 301.8,569.5 327.5,573.6 351.5,576.6 364.0,567.5 376.0,564.5 387.2,561.6 400.9,558.7 412.9,558.7 433.4,560.9 460.0,561.6 496.5,563.7 540.3,571.7 581.2,579.4 617.3,584.5 665.6,592.3 714.0,594.6 720.0,594.9 740.0,597.7 774.4,605.2 786.4,611.5 822.4,625.2 870.8,637.8 943.2,655.6 967.2,660.7 991.5,664.7 1039.9,675.6 1063.9,683.6 1088.0,692.2 1120.0,701.0 1160.0,713.0 1200.0,725.3 1232.9,735.3 1257.2,739.0 1281.3,737.3 1317.3,732.7 1353.6,731.8 1377.7,730.4 1389.7,730.4 1402.0,732.7 1414.0,738.4 1426.0,741.9 1450.0,750.2 1498.4,768.8 1549.6,789.4 1574.0,798.2 1600.0,805.8 1609.1,808.9 1632.4,814.9 1645.2,819.6 1680.2,828.0 1713.9,836.5 1748.9,843.8 1787.3,852.8 1812.9,858.6 1848.7,867.2 1860.7,872.0 1896.8,882.9 1932.8,894.3 1969.2,904.0 1993.2,910.6 2005.5,914.9 2029.5,921.5 2053.6,928.1 2077.9,934.4 2101.9,939.3 2126.2,943.5 2150.3,947.3 2183.0,949.4 2211.7,945.9 2246.0,940.8 2270.9,934.5 2283.2,928.8 2320.4,916.5 2344.7,911.6 2369.0,904.4 2393.4,897.3 2417.7,891.0 2428.6,887.0 2452.0,879.0 2476.0,863.2 2488.0,856.0 2500.0,848.4 2512.4,842.0 2524.5,838.9 2548.8,830.9 2584.8,820.3 2596.9,815.2 2620.9,807.4 2633.2,803.1 2657.5,794.0 2693.3,782.3 2717.6,776.8 2741.6,772.5 2765.7,769.8 2785.8,768.2 2814.4,769.3 2851.6,771.0 2874.5,775.9 2898.8,779.1 2923.0,779.9 2947.4,782.2 2983.2,785.1 3019.3,787.9 3045.0,789.6" fill="none" stroke="#4dffff" stroke-width="2.5" stroke-linejoin="round" stroke-linecap="round" clip-path="url(#cp)" stroke-opacity="1"/>
<polyline points="488.0,62.0 495.8,66.3 531.7,85.9 580.5,110.3 629.4,131.2 655.2,143.9 681.1,154.2 715.6,166.3 732.8,174.9 781.6,197.9 824.7,221.4 859.2,238.7 919.5,263.4 942.5,274.0 991.3,292.7 1005.7,299.9 1040.2,312.8 1077.5,331.5 1135.0,355.9 1155.1,365.9 1200.0,385.3 1220.0,394.8 1257.0,408.0 1281.0,412.9 1293.0,416.6 1317.0,420.9 1341.6,426.6 1365.7,431.5 1389.7,437.2 1414.6,447.8 1441.0,457.3 1477.5,473.0 1501.6,483.0 1513.6,488.7 1549.6,503.0 1574.0,514.5 1600.0,525.0 1630.7,536.6 1642.5,542.5 1680.2,554.9 1713.2,566.7 1776.8,587.2 1788.6,591.5 1847.5,610.1 1861.7,616.7 1918.2,636.0 1932.4,642.1 1993.6,662.6 2005.4,667.8 2053.7,683.6 2078.5,692.8 2100.0,698.9 2128.6,706.7 2157.0,715.0 2185.8,720.7 2214.4,724.5 2243.0,727.3 2271.7,728.5 2308.0,727.9 2344.0,728.8 2386.0,729.0 2416.7,729.6 2428.6,729.3 2452.0,727.9 2476.0,723.0 2500.0,717.6 2524.5,715.9 2548.8,714.2 2584.8,712.2 2620.9,708.7 2657.5,705.3 2693.3,702.1 2729.6,700.1 2753.6,699.6 2777.7,700.1 2811.5,702.1 2851.6,705.2 2874.5,708.7 2898.8,711.5 2923.0,713.2 2947.4,716.1 2983.2,719.0 3019.3,722.7 3045.0,725.3" fill="none" stroke="#4d4dff" stroke-width="2.4" stroke-linejoin="round" stroke-linecap="round" clip-path="url(#cp)" stroke-opacity="1"/>
<g shape-rendering="crispEdges" clip-path="url(#cp)">
<rect x="24" y="794" width="2" height="44" fill="#ef5350"/>
<rect x="20" y="802" width="10" height="36" fill="#ef5350"/>
<rect x="36" y="650" width="2" height="186" fill="#26a69a"/>
<rect x="32" y="713" width="10" height="123" fill="#9193a0"/>
<rect x="33.6" y="714.6" width="6.8" height="119.8" fill="#26a69a" shape-rendering="auto"/>
<rect x="49" y="663" width="2" height="102" fill="#26a69a"/>
<rect x="45" y="698" width="10" height="26" fill="#9193a0"/>
<rect x="46.6" y="699.6" width="6.8" height="22.8" fill="#26a69a" shape-rendering="auto"/>
<rect x="61" y="601" width="2" height="140" fill="#ef5350"/>
<rect x="57" y="696" width="10" height="25" fill="#ef5350"/>
<rect x="73" y="693" width="2" height="70" fill="#26a69a"/>
<rect x="69" y="711" width="10" height="8" fill="#9193a0"/>
<rect x="70.6" y="712.6" width="6.8" height="4.8" fill="#26a69a" shape-rendering="auto"/>
<rect x="85" y="672" width="2" height="77" fill="#ef5350"/>
<rect x="81" y="713" width="10" height="28" fill="#ef5350"/>
<rect x="97" y="709" width="2" height="70" fill="#ef5350"/>
<rect x="93" y="741" width="10" height="13" fill="#ef5350"/>
<rect x="109" y="723" width="2" height="32" fill="#ef5350"/>
<rect x="105" y="749" width="10" height="3" fill="#ef5350"/>
<rect x="121" y="746" width="2" height="96" fill="#ef5350"/>
<rect x="117" y="749" width="10" height="93" fill="#ef5350"/>
<rect x="133" y="820" width="2" height="56" fill="#26a69a"/>
<rect x="129" y="820" width="10" height="20" fill="#9193a0"/>
<rect x="130.6" y="821.6" width="6.8" height="16.8" fill="#26a69a" shape-rendering="auto"/>
<rect x="145" y="754" width="2" height="100" fill="#26a69a"/>
<rect x="141" y="757" width="10" height="62" fill="#9193a0"/>
<rect x="142.6" y="758.6" width="6.8" height="58.8" fill="#26a69a" shape-rendering="auto"/>
<rect x="157" y="687" width="2" height="118" fill="#26a69a"/>
<rect x="153" y="728" width="10" height="29" fill="#9193a0"/>
<rect x="154.6" y="729.6" width="6.8" height="25.8" fill="#26a69a" shape-rendering="auto"/>
<rect x="169" y="682" width="2" height="83" fill="#ef5350"/>
<rect x="165" y="725" width="10" height="8" fill="#ef5350"/>
<rect x="181" y="647" width="2" height="104" fill="#26a69a"/>
<rect x="177" y="721" width="10" height="14" fill="#9193a0"/>
<rect x="178.6" y="722.6" width="6.8" height="10.8" fill="#26a69a" shape-rendering="auto"/>
<rect x="193" y="684" width="2" height="57" fill="#ef5350"/>
<rect x="189" y="723" width="10" height="17" fill="#ef5350"/>
<rect x="206" y="638" width="2" height="105" fill="#26a69a"/>
<rect x="202" y="712" width="10" height="30" fill="#9193a0"/>
<rect x="203.6" y="713.6" width="6.8" height="26.8" fill="#26a69a" shape-rendering="auto"/>
<rect x="218" y="703" width="2" height="61" fill="#ef5350"/>
<rect x="214" y="714" width="10" height="25" fill="#ef5350"/>
<rect x="230" y="697" width="2" height="54" fill="#26a69a"/>
<rect x="226" y="729" width="10" height="7" fill="#9193a0"/>
<rect x="227.6" y="730.6" width="6.8" height="3.8" fill="#26a69a" shape-rendering="auto"/>
<rect x="242" y="712" width="2" height="33" fill="#26a69a"/>
<rect x="238" y="727" width="10" height="2" fill="#9193a0"/>
<rect x="254" y="690" width="2" height="41" fill="#26a69a"/>
<rect x="250" y="697" width="10" height="32" fill="#9193a0"/>
<rect x="251.6" y="698.6" width="6.8" height="28.8" fill="#26a69a" shape-rendering="auto"/>
<rect x="266" y="685" width="2" height="32" fill="#ef5350"/>
<rect x="262" y="696" width="10" height="20" fill="#ef5350"/>
<rect x="278" y="696" width="2" height="32" fill="#26a69a"/>
<rect x="274" y="708" width="10" height="8" fill="#9193a0"/>
<rect x="275.6" y="709.6" width="6.8" height="4.8" fill="#26a69a" shape-rendering="auto"/>
<rect x="290" y="643" width="2" height="65" fill="#26a69a"/>
<rect x="286" y="684" width="10" height="24" fill="#9193a0"/>
<rect x="287.6" y="685.6" width="6.8" height="20.8" fill="#26a69a" shape-rendering="auto"/>
<rect x="302" y="629" width="2" height="110" fill="#ef5350"/>
<rect x="298" y="679" width="10" height="32" fill="#ef5350"/>
<rect x="314" y="663" width="2" height="70" fill="#26a69a"/>
<rect x="310" y="676" width="10" height="35" fill="#9193a0"/>
<rect x="311.6" y="677.6" width="6.8" height="31.8" fill="#26a69a" shape-rendering="auto"/>
<rect x="326" y="626" width="2" height="63" fill="#ef5350"/>
<rect x="322" y="674" width="10" height="6" fill="#ef5350"/>
<rect x="338" y="642" width="2" height="52" fill="#26a69a"/>
<rect x="334" y="644" width="10" height="38" fill="#9193a0"/>
<rect x="335.6" y="645.6" width="6.8" height="34.8" fill="#26a69a" shape-rendering="auto"/>
<rect x="350" y="618" width="2" height="42" fill="#ef5350"/>
<rect x="346" y="644" width="10" height="6" fill="#ef5350"/>
<rect x="363" y="134" width="2" height="517" fill="#26a69a"/>
<rect x="359" y="230" width="10" height="421" fill="#9193a0"/>
<rect x="360.6" y="231.6" width="6.8" height="417.8" fill="#26a69a" shape-rendering="auto"/>
<rect x="375" y="164" width="2" height="243" fill="#ef5350"/>
<rect x="371" y="234" width="10" height="159" fill="#ef5350"/>
<rect x="387" y="263" width="2" height="138" fill="#26a69a"/>
<rect x="383" y="338" width="10" height="50" fill="#9193a0"/>
<rect x="384.6" y="339.6" width="6.8" height="46.8" fill="#26a69a" shape-rendering="auto"/>
<rect x="399" y="282" width="2" height="182" fill="#ef5350"/>
<rect x="395" y="338" width="10" height="102" fill="#ef5350"/>
<rect x="411" y="420" width="2" height="177" fill="#ef5350"/>
<rect x="407" y="441" width="10" height="122" fill="#ef5350"/>
<rect x="423" y="510" width="2" height="133" fill="#ef5350"/>
<rect x="419" y="565" width="10" height="33" fill="#ef5350"/>
<rect x="435" y="532" width="2" height="126" fill="#ef5350"/>
<rect x="431" y="598" width="10" height="27" fill="#ef5350"/>
<rect x="447" y="539" width="2" height="91" fill="#26a69a"/>
<rect x="443" y="565" width="10" height="59" fill="#9193a0"/>
<rect x="444.6" y="566.6" width="6.8" height="55.8" fill="#26a69a" shape-rendering="auto"/>
<rect x="459" y="563" width="2" height="72" fill="#ef5350"/>
<rect x="455" y="568" width="10" height="30" fill="#ef5350"/>
<rect x="471" y="578" width="2" height="50" fill="#26a69a"/>
<rect x="467" y="583" width="10" height="14" fill="#9193a0"/>
<rect x="468.6" y="584.6" width="6.8" height="10.8" fill="#26a69a" shape-rendering="auto"/>
<rect x="483" y="562" width="2" height="53" fill="#ef5350"/>
<rect x="479" y="580" width="10" height="27" fill="#ef5350"/>
<rect x="495" y="438" width="2" height="169" fill="#26a69a"/>
<rect x="491" y="522" width="10" height="85" fill="#9193a0"/>
<rect x="492.6" y="523.6" width="6.8" height="81.8" fill="#26a69a" shape-rendering="auto"/>
<rect x="507" y="514" width="2" height="166" fill="#ef5350"/>
<rect x="503" y="525" width="10" height="144" fill="#ef5350"/>
<rect x="520" y="654" width="2" height="70" fill="#ef5350"/>
<rect x="516" y="668" width="10" height="26" fill="#ef5350"/>
<rect x="532" y="665" width="2" height="72" fill="#ef5350"/>
<rect x="528" y="693" width="10" height="37" fill="#ef5350"/>
<rect x="544" y="658" width="2" height="84" fill="#26a69a"/>
<rect x="540" y="662" width="10" height="63" fill="#9193a0"/>
<rect x="541.6" y="663.6" width="6.8" height="59.8" fill="#26a69a" shape-rendering="auto"/>
<rect x="556" y="638" width="2" height="80" fill="#ef5350"/>
<rect x="552" y="664" width="10" height="30" fill="#ef5350"/>
<rect x="568" y="652" width="2" height="54" fill="#ef5350"/>
<rect x="564" y="691" width="10" height="10" fill="#ef5350"/>
<rect x="580" y="668" width="2" height="54" fill="#26a69a"/>
<rect x="576" y="684" width="10" height="19" fill="#9193a0"/>
<rect x="577.6" y="685.6" width="6.8" height="15.8" fill="#26a69a" shape-rendering="auto"/>
<rect x="592" y="664" width="2" height="44" fill="#ef5350"/>
<rect x="588" y="683" width="10" height="9" fill="#ef5350"/>
<rect x="604" y="666" width="2" height="33" fill="#26a69a"/>
<rect x="600" y="682" width="10" height="13" fill="#9193a0"/>
<rect x="601.6" y="683.6" width="6.8" height="9.8" fill="#26a69a" shape-rendering="auto"/>
<rect x="616" y="575" width="2" height="110" fill="#26a69a"/>
<rect x="612" y="630" width="10" height="51" fill="#9193a0"/>
<rect x="613.6" y="631.6" width="6.8" height="47.8" fill="#26a69a" shape-rendering="auto"/>
<rect x="628" y="617" width="2" height="70" fill="#ef5350"/>
<rect x="624" y="630" width="10" height="22" fill="#ef5350"/>
<rect x="640" y="621" width="2" height="114" fill="#ef5350"/>
<rect x="636" y="649" width="10" height="61" fill="#ef5350"/>
<rect x="652" y="672" width="2" height="61" fill="#26a69a"/>
<rect x="648" y="687" width="10" height="23" fill="#9193a0"/>
<rect x="649.6" y="688.6" width="6.8" height="19.8" fill="#26a69a" shape-rendering="auto"/>
<rect x="664" y="665" width="2" height="46" fill="#ef5350"/>
<rect x="660" y="685" width="10" height="5" fill="#ef5350"/>
<rect x="677" y="523" width="2" height="165" fill="#26a69a"/>
<rect x="673" y="620" width="10" height="67" fill="#9193a0"/>
<rect x="674.6" y="621.6" width="6.8" height="63.8" fill="#26a69a" shape-rendering="auto"/>
<rect x="689" y="557" width="2" height="83" fill="#26a69a"/>
<rect x="685" y="585" width="10" height="35" fill="#9193a0"/>
<rect x="686.6" y="586.6" width="6.8" height="31.8" fill="#26a69a" shape-rendering="auto"/>
<rect x="701" y="565" width="2" height="95" fill="#ef5350"/>
<rect x="697" y="587" width="10" height="24" fill="#ef5350"/>
<rect x="713" y="593" width="2" height="69" fill="#ef5350"/>
<rect x="709" y="612" width="10" height="15" fill="#ef5350"/>
<rect x="725" y="608" width="2" height="110" fill="#ef5350"/>
<rect x="721" y="626" width="10" height="75" fill="#ef5350"/>
<rect x="737" y="672" width="2" height="45" fill="#26a69a"/>
<rect x="733" y="693" width="10" height="11" fill="#9193a0"/>
<rect x="734.6" y="694.6" width="6.8" height="7.8" fill="#26a69a" shape-rendering="auto"/>
<rect x="749" y="687" width="2" height="72" fill="#ef5350"/>
<rect x="745" y="690" width="10" height="51" fill="#ef5350"/>
<rect x="761" y="730" width="2" height="49" fill="#ef5350"/>
<rect x="757" y="740" width="10" height="15" fill="#ef5350"/>
<rect x="773" y="712" width="2" height="39" fill="#26a69a"/>
<rect x="769" y="717" width="10" height="34" fill="#9193a0"/>
<rect x="770.6" y="718.6" width="6.8" height="30.8" fill="#26a69a" shape-rendering="auto"/>
<rect x="785" y="713" width="2" height="197" fill="#ef5350"/>
<rect x="781" y="719" width="10" height="127" fill="#ef5350"/>
<rect x="797" y="798" width="2" height="57" fill="#26a69a"/>
<rect x="793" y="809" width="10" height="36" fill="#9193a0"/>
<rect x="794.6" y="810.6" width="6.8" height="32.8" fill="#26a69a" shape-rendering="auto"/>
<rect x="809" y="804" width="2" height="56" fill="#ef5350"/>
<rect x="805" y="811" width="10" height="47" fill="#ef5350"/>
<rect x="821" y="798" width="2" height="93" fill="#ef5350"/>
<rect x="817" y="855" width="10" height="11" fill="#ef5350"/>
<rect x="834" y="815" width="2" height="59" fill="#26a69a"/>
<rect x="830" y="825" width="10" height="39" fill="#9193a0"/>
<rect x="831.6" y="826.6" width="6.8" height="35.8" fill="#26a69a" shape-rendering="auto"/>
<rect x="846" y="783" width="2" height="75" fill="#26a69a"/>
<rect x="842" y="802" width="10" height="22" fill="#9193a0"/>
<rect x="843.6" y="803.6" width="6.8" height="18.8" fill="#26a69a" shape-rendering="auto"/>
<rect x="858" y="694" width="2" height="117" fill="#26a69a"/>
<rect x="854" y="785" width="10" height="15" fill="#9193a0"/>
<rect x="855.6" y="786.6" width="6.8" height="11.8" fill="#26a69a" shape-rendering="auto"/>
<rect x="870" y="754" width="2" height="64" fill="#ef5350"/>
<rect x="866" y="778" width="10" height="31" fill="#ef5350"/>
<rect x="882" y="787" width="2" height="41" fill="#26a69a"/>
<rect x="878" y="799" width="10" height="11" fill="#9193a0"/>
<rect x="879.6" y="800.6" width="6.8" height="7.8" fill="#26a69a" shape-rendering="auto"/>
<rect x="894" y="755" width="2" height="66" fill="#26a69a"/>
<rect x="890" y="796" width="10" height="2" fill="#9193a0"/>
<rect x="906" y="762" width="2" height="72" fill="#ef5350"/>
<rect x="902" y="795" width="10" height="4" fill="#ef5350"/>
<rect x="918" y="787" width="2" height="29" fill="#26a69a"/>
<rect x="914" y="797" width="10" height="2" fill="#9193a0"/>
<rect x="930" y="759" width="2" height="44" fill="#26a69a"/>
<rect x="926" y="778" width="10" height="17" fill="#9193a0"/>
<rect x="927.6" y="779.6" width="6.8" height="13.8" fill="#26a69a" shape-rendering="auto"/>
<rect x="942" y="761" width="2" height="38" fill="#ef5350"/>
<rect x="938" y="779" width="10" height="12" fill="#ef5350"/>
<rect x="954" y="786" width="2" height="39" fill="#ef5350"/>
<rect x="950" y="793" width="10" height="22" fill="#ef5350"/>
<rect x="966" y="786" width="2" height="38" fill="#26a69a"/>
<rect x="962" y="793" width="10" height="23" fill="#9193a0"/>
<rect x="963.6" y="794.6" width="6.8" height="19.8" fill="#26a69a" shape-rendering="auto"/>
<rect x="978" y="737" width="2" height="61" fill="#26a69a"/>
<rect x="974" y="749" width="10" height="41" fill="#9193a0"/>
<rect x="975.6" y="750.6" width="6.8" height="37.8" fill="#26a69a" shape-rendering="auto"/>
<rect x="991" y="733" width="2" height="58" fill="#ef5350"/>
<rect x="987" y="750" width="10" height="17" fill="#ef5350"/>
<rect x="1003" y="748" width="2" height="50" fill="#ef5350"/>
<rect x="999" y="765" width="10" height="26" fill="#ef5350"/>
<rect x="1015" y="785" width="2" height="32" fill="#ef5350"/>
<rect x="1011" y="790" width="10" height="9" fill="#ef5350"/>
<rect x="1027" y="795" width="2" height="27" fill="#ef5350"/>
<rect x="1023" y="801" width="10" height="8" fill="#ef5350"/>
<rect x="1039" y="800" width="2" height="13" fill="#26a69a"/>
<rect x="1035" y="805" width="10" height="7" fill="#9193a0"/>
<rect x="1036.6" y="806.6" width="6.8" height="3.8" fill="#26a69a" shape-rendering="auto"/>
<rect x="1051" y="797" width="2" height="116" fill="#ef5350"/>
<rect x="1047" y="807" width="10" height="78" fill="#ef5350"/>
<rect x="1063" y="866" width="2" height="69" fill="#26a69a"/>
<rect x="1059" y="883" width="10" height="2" fill="#9193a0"/>
<rect x="1075" y="867" width="2" height="34" fill="#ef5350"/>
<rect x="1071" y="881" width="10" height="11" fill="#ef5350"/>
<rect x="1087" y="831" width="2" height="148" fill="#26a69a"/>
<rect x="1083" y="869" width="10" height="22" fill="#9193a0"/>
<rect x="1084.6" y="870.6" width="6.8" height="18.8" fill="#26a69a" shape-rendering="auto"/>
<rect x="1099" y="834" width="2" height="72" fill="#ef5350"/>
<rect x="1095" y="866" width="10" height="23" fill="#ef5350"/>
<rect x="1111" y="856" width="2" height="48" fill="#26a69a"/>
<rect x="1107" y="886" width="10" height="2" fill="#9193a0"/>
<rect x="1123" y="869" width="2" height="20" fill="#26a69a"/>
<rect x="1119" y="880" width="10" height="5" fill="#9193a0"/>
<rect x="1120.6" y="881.6" width="6.8" height="1.7999999999999998" fill="#26a69a" shape-rendering="auto"/>
<rect x="1135" y="860" width="2" height="25" fill="#26a69a"/>
<rect x="1131" y="869" width="10" height="8" fill="#9193a0"/>
<rect x="1132.6" y="870.6" width="6.8" height="4.8" fill="#26a69a" shape-rendering="auto"/>
<rect x="1147" y="858" width="2" height="48" fill="#ef5350"/>
<rect x="1143" y="866" width="10" height="26" fill="#ef5350"/>
<rect x="1160" y="889" width="2" height="66" fill="#ef5350"/>
<rect x="1156" y="889" width="10" height="32" fill="#ef5350"/>
<rect x="1172" y="893" width="2" height="34" fill="#26a69a"/>
<rect x="1168" y="916" width="10" height="6" fill="#9193a0"/>
<rect x="1169.6" y="917.6" width="6.8" height="2.8" fill="#26a69a" shape-rendering="auto"/>
<rect x="1184" y="901" width="2" height="42" fill="#26a69a"/>
<rect x="1180" y="905" width="10" height="11" fill="#9193a0"/>
<rect x="1181.6" y="906.6" width="6.8" height="7.8" fill="#26a69a" shape-rendering="auto"/>
<rect x="1196" y="899" width="2" height="15" fill="#ef5350"/>
<rect x="1192" y="902" width="10" height="4" fill="#ef5350"/>
<rect x="1208" y="890" width="2" height="29" fill="#26a69a"/>
<rect x="1204" y="892" width="10" height="12" fill="#9193a0"/>
<rect x="1205.6" y="893.6" width="6.8" height="8.8" fill="#26a69a" shape-rendering="auto"/>
<rect x="1220" y="888" width="2" height="31" fill="#ef5350"/>
<rect x="1216" y="890" width="10" height="23" fill="#ef5350"/>
<rect x="1232" y="866" width="2" height="55" fill="#26a69a"/>
<rect x="1228" y="885" width="10" height="29" fill="#9193a0"/>
<rect x="1229.6" y="886.6" width="6.8" height="25.8" fill="#26a69a" shape-rendering="auto"/>
<rect x="1244" y="822" width="2" height="64" fill="#26a69a"/>
<rect x="1240" y="830" width="10" height="52" fill="#9193a0"/>
<rect x="1241.6" y="831.6" width="6.8" height="48.8" fill="#26a69a" shape-rendering="auto"/>
<rect x="1256" y="725" width="2" height="125" fill="#ef5350"/>
<rect x="1252" y="830" width="10" height="19" fill="#ef5350"/>
<rect x="1268" y="691" width="2" height="182" fill="#26a69a"/>
<rect x="1264" y="740" width="10" height="104" fill="#9193a0"/>
<rect x="1265.6" y="741.6" width="6.8" height="100.8" fill="#26a69a" shape-rendering="auto"/>
<rect x="1280" y="401" width="2" height="354" fill="#26a69a"/>
<rect x="1276" y="622" width="10" height="117" fill="#9193a0"/>
<rect x="1277.6" y="623.6" width="6.8" height="113.8" fill="#26a69a" shape-rendering="auto"/>
<rect x="1292" y="527" width="2" height="220" fill="#ef5350"/>
<rect x="1288" y="622" width="10" height="97" fill="#ef5350"/>
<rect x="1304" y="596" width="2" height="142" fill="#26a69a"/>
<rect x="1300" y="668" width="10" height="45" fill="#9193a0"/>
<rect x="1301.6" y="669.6" width="6.8" height="41.8" fill="#26a69a" shape-rendering="auto"/>
<rect x="1317" y="564" width="2" height="119" fill="#26a69a"/>
<rect x="1313" y="628" width="10" height="42" fill="#9193a0"/>
<rect x="1314.6" y="629.6" width="6.8" height="38.8" fill="#26a69a" shape-rendering="auto"/>
<rect x="1329" y="615" width="2" height="143" fill="#ef5350"/>
<rect x="1325" y="628" width="10" height="104" fill="#ef5350"/>
<rect x="1341" y="674" width="2" height="75" fill="#ef5350"/>
<rect x="1337" y="734" width="10" height="2" fill="#ef5350"/>
<rect x="1353" y="551" width="2" height="197" fill="#26a69a"/>
<rect x="1349" y="658" width="10" height="74" fill="#9193a0"/>
<rect x="1350.6" y="659.6" width="6.8" height="70.8" fill="#26a69a" shape-rendering="auto"/>
<rect x="1365" y="595" width="2" height="105" fill="#ef5350"/>
<rect x="1361" y="656" width="10" height="12" fill="#ef5350"/>
<rect x="1377" y="623" width="2" height="109" fill="#ef5350"/>
<rect x="1373" y="665" width="10" height="59" fill="#ef5350"/>
<rect x="1389" y="700" width="2" height="60" fill="#ef5350"/>
<rect x="1385" y="729" width="10" height="2" fill="#ef5350"/>
<rect x="1401" y="722" width="2" height="263" fill="#ef5350"/>
<rect x="1397" y="730" width="10" height="163" fill="#ef5350"/>
<rect x="1413" y="878" width="2" height="191" fill="#ef5350"/>
<rect x="1409" y="887" width="10" height="141" fill="#ef5350"/>
<rect x="1425" y="858" width="2" height="179" fill="#26a69a"/>
<rect x="1421" y="887" width="10" height="148" fill="#9193a0"/>
<rect x="1422.6" y="888.6" width="6.8" height="144.8" fill="#26a69a" shape-rendering="auto"/>
<rect x="1437" y="866" width="2" height="89" fill="#ef5350"/>
<rect x="1433" y="882" width="10" height="36" fill="#ef5350"/>
<rect x="1449" y="911" width="2" height="63" fill="#ef5350"/>
<rect x="1445" y="915" width="10" height="33" fill="#ef5350"/>
<rect x="1461" y="931" width="2" height="82" fill="#ef5350"/>
<rect x="1457" y="947" width="10" height="56" fill="#ef5350"/>
<rect x="1474" y="965" width="2" height="76" fill="#26a69a"/>
<rect x="1470" y="994" width="10" height="9" fill="#9193a0"/>
<rect x="1471.6" y="995.6" width="6.8" height="5.8" fill="#26a69a" shape-rendering="auto"/>
<rect x="1486" y="953" width="2" height="49" fill="#26a69a"/>
<rect x="1482" y="981" width="10" height="15" fill="#9193a0"/>
<rect x="1483.6" y="982.6" width="6.8" height="11.8" fill="#26a69a" shape-rendering="auto"/>
<rect x="1498" y="945" width="2" height="60" fill="#ef5350"/>
<rect x="1494" y="979" width="10" height="11" fill="#ef5350"/>
<rect x="1510" y="983" width="2" height="25" fill="#ef5350"/>
<rect x="1506" y="987" width="10" height="13" fill="#ef5350"/>
<rect x="1522" y="982" width="2" height="23" fill="#26a69a"/>
<rect x="1518" y="994" width="10" height="4" fill="#9193a0"/>
<rect x="1520" y="995.5" width="6" height="1" fill="#26a69a"/>
<rect x="1534" y="984" width="2" height="21" fill="#26a69a"/>
<rect x="1530" y="989" width="10" height="4" fill="#9193a0"/>
<rect x="1532" y="990.5" width="6" height="1" fill="#26a69a"/>
<rect x="1546" y="981" width="2" height="52" fill="#ef5350"/>
<rect x="1542" y="988" width="10" height="37" fill="#ef5350"/>
<rect x="1558" y="1027" width="2" height="46" fill="#ef5350"/>
<rect x="1554" y="1027" width="10" height="34" fill="#ef5350"/>
<rect x="1570" y="1020" width="2" height="63" fill="#26a69a"/>
<rect x="1566" y="1025" width="10" height="37" fill="#9193a0"/>
<rect x="1567.6" y="1026.6" width="6.8" height="33.8" fill="#26a69a" shape-rendering="auto"/>
<rect x="1582" y="993" width="2" height="34" fill="#26a69a"/>
<rect x="1578" y="1000" width="10" height="24" fill="#9193a0"/>
<rect x="1579.6" y="1001.6" width="6.8" height="20.8" fill="#26a69a" shape-rendering="auto"/>
<rect x="1594" y="986" width="2" height="28" fill="#ef5350"/>
<rect x="1590" y="997" width="10" height="7" fill="#ef5350"/>
<rect x="1606" y="959" width="2" height="59" fill="#26a69a"/>
<rect x="1602" y="988" width="10" height="13" fill="#9193a0"/>
<rect x="1603.6" y="989.6" width="6.8" height="9.8" fill="#26a69a" shape-rendering="auto"/>
<rect x="1618" y="968" width="2" height="43" fill="#ef5350"/>
<rect x="1614" y="987" width="10" height="16" fill="#ef5350"/>
<rect x="1631" y="943" width="2" height="60" fill="#26a69a"/>
<rect x="1627" y="978" width="10" height="24" fill="#9193a0"/>
<rect x="1628.6" y="979.6" width="6.8" height="20.8" fill="#26a69a" shape-rendering="auto"/>
<rect x="1643" y="970" width="2" height="54" fill="#ef5350"/>
<rect x="1639" y="978" width="10" height="18" fill="#ef5350"/>
<rect x="1655" y="974" width="2" height="29" fill="#26a69a"/>
<rect x="1651" y="996" width="10" height="2" fill="#9193a0"/>
<rect x="1667" y="966" width="2" height="32" fill="#26a69a"/>
<rect x="1663" y="971" width="10" height="25" fill="#9193a0"/>
<rect x="1664.6" y="972.6" width="6.8" height="21.8" fill="#26a69a" shape-rendering="auto"/>
<rect x="1679" y="967" width="2" height="25" fill="#ef5350"/>
<rect x="1675" y="968" width="10" height="17" fill="#ef5350"/>
<rect x="1691" y="970" width="2" height="24" fill="#26a69a"/>
<rect x="1687" y="972" width="10" height="13" fill="#9193a0"/>
<rect x="1688.6" y="973.6" width="6.8" height="9.8" fill="#26a69a" shape-rendering="auto"/>
<rect x="1703" y="956" width="2" height="31" fill="#ef5350"/>
<rect x="1699" y="969" width="10" height="17" fill="#ef5350"/>
<rect x="1715" y="966" width="2" height="20" fill="#26a69a"/>
<rect x="1711" y="968" width="10" height="18" fill="#9193a0"/>
<rect x="1712.6" y="969.6" width="6.8" height="14.8" fill="#26a69a" shape-rendering="auto"/>
<rect x="1727" y="893" width="2" height="85" fill="#26a69a"/>
<rect x="1723" y="964" width="10" height="6" fill="#9193a0"/>
<rect x="1724.6" y="965.6" width="6.8" height="2.8" fill="#26a69a" shape-rendering="auto"/>
<rect x="1739" y="959" width="2" height="25" fill="#ef5350"/>
<rect x="1735" y="962" width="10" height="14" fill="#ef5350"/>
<rect x="1751" y="969" width="2" height="40" fill="#ef5350"/>
<rect x="1747" y="973" width="10" height="21" fill="#ef5350"/>
<rect x="1763" y="971" width="2" height="25" fill="#26a69a"/>
<rect x="1759" y="980" width="10" height="14" fill="#9193a0"/>
<rect x="1760.6" y="981.6" width="6.8" height="10.8" fill="#26a69a" shape-rendering="auto"/>
<rect x="1775" y="969" width="2" height="18" fill="#ef5350"/>
<rect x="1771" y="979" width="10" height="3" fill="#ef5350"/>
<rect x="1788" y="976" width="2" height="12" fill="#ef5350"/>
<rect x="1784" y="984" width="10" height="4" fill="#ef5350"/>
<rect x="1800" y="974" width="2" height="22" fill="#ef5350"/>
<rect x="1796" y="987" width="10" height="7" fill="#ef5350"/>
<rect x="1812" y="993" width="2" height="66" fill="#ef5350"/>
<rect x="1808" y="995" width="10" height="13" fill="#ef5350"/>
<rect x="1824" y="970" width="2" height="67" fill="#26a69a"/>
<rect x="1820" y="990" width="10" height="15" fill="#9193a0"/>
<rect x="1821.6" y="991.6" width="6.8" height="11.8" fill="#26a69a" shape-rendering="auto"/>
<rect x="1836" y="977" width="2" height="39" fill="#ef5350"/>
<rect x="1832" y="987" width="10" height="22" fill="#ef5350"/>
<rect x="1848" y="1004" width="2" height="23" fill="#ef5350"/>
<rect x="1844" y="1007" width="10" height="11" fill="#ef5350"/>
<rect x="1860" y="1003" width="2" height="90" fill="#ef5350"/>
<rect x="1856" y="1020" width="10" height="61" fill="#ef5350"/>
<rect x="1872" y="1068" width="2" height="33" fill="#26a69a"/>
<rect x="1868" y="1073" width="10" height="8" fill="#9193a0"/>
<rect x="1869.6" y="1074.6" width="6.8" height="4.8" fill="#26a69a" shape-rendering="auto"/>
<rect x="1884" y="1004" width="2" height="77" fill="#26a69a"/>
<rect x="1880" y="1048" width="10" height="24" fill="#9193a0"/>
<rect x="1881.6" y="1049.6" width="6.8" height="20.8" fill="#26a69a" shape-rendering="auto"/>
<rect x="1896" y="1027" width="2" height="78" fill="#ef5350"/>
<rect x="1892" y="1046" width="10" height="39" fill="#ef5350"/>
<rect x="1908" y="1053" width="2" height="34" fill="#26a69a"/>
<rect x="1904" y="1057" width="10" height="28" fill="#9193a0"/>
<rect x="1905.6" y="1058.6" width="6.8" height="24.8" fill="#26a69a" shape-rendering="auto"/>
<rect x="1920" y="1053" width="2" height="29" fill="#ef5350"/>
<rect x="1916" y="1056" width="10" height="21" fill="#ef5350"/>
<rect x="1932" y="1062" width="2" height="21" fill="#26a69a"/>
<rect x="1928" y="1069" width="10" height="7" fill="#9193a0"/>
<rect x="1929.6" y="1070.6" width="6.8" height="3.8" fill="#26a69a" shape-rendering="auto"/>
<rect x="1945" y="1060" width="2" height="21" fill="#ef5350"/>
<rect x="1941" y="1068" width="10" height="8" fill="#ef5350"/>
<rect x="1957" y="1067" width="2" height="10" fill="#26a69a"/>
<rect x="1953" y="1071" width="10" height="4" fill="#9193a0"/>
<rect x="1955" y="1072.5" width="6" height="1" fill="#26a69a"/>
<rect x="1969" y="1064" width="2" height="17" fill="#ef5350"/>
<rect x="1965" y="1069" width="10" height="4" fill="#ef5350"/>
<rect x="1981" y="1066" width="2" height="9" fill="#26a69a"/>
<rect x="1977" y="1070" width="10" height="4" fill="#9193a0"/>
<rect x="1979" y="1071.5" width="6" height="1" fill="#26a69a"/>
<rect x="1993" y="1067" width="2" height="26" fill="#ef5350"/>
<rect x="1989" y="1070" width="10" height="11" fill="#ef5350"/>
<rect x="2005" y="1081" width="2" height="44" fill="#ef5350"/>
<rect x="2001" y="1083" width="10" height="28" fill="#ef5350"/>
<rect x="2017" y="1074" width="2" height="39" fill="#26a69a"/>
<rect x="2013" y="1084" width="10" height="27" fill="#9193a0"/>
<rect x="2014.6" y="1085.6" width="6.8" height="23.8" fill="#26a69a" shape-rendering="auto"/>
<rect x="2029" y="1078" width="2" height="28" fill="#ef5350"/>
<rect x="2025" y="1084" width="10" height="13" fill="#ef5350"/>
<rect x="2041" y="1083" width="2" height="18" fill="#26a69a"/>
<rect x="2037" y="1094" width="10" height="3" fill="#9193a0"/>
<rect x="2053" y="1084" width="2" height="17" fill="#26a69a"/>
<rect x="2049" y="1087" width="10" height="5" fill="#9193a0"/>
<rect x="2050.6" y="1088.6" width="6.8" height="1.7999999999999998" fill="#26a69a" shape-rendering="auto"/>
<rect x="2065" y="1075" width="2" height="22" fill="#26a69a"/>
<rect x="2061" y="1084" width="10" height="4" fill="#9193a0"/>
<rect x="2063" y="1085.5" width="6" height="1" fill="#26a69a"/>
<rect x="2077" y="1078" width="2" height="17" fill="#ef5350"/>
<rect x="2073" y="1082" width="10" height="7" fill="#ef5350"/>
<rect x="2089" y="1045" width="2" height="44" fill="#26a69a"/>
<rect x="2085" y="1065" width="10" height="22" fill="#9193a0"/>
<rect x="2086.6" y="1066.6" width="6.8" height="18.8" fill="#26a69a" shape-rendering="auto"/>
<rect x="2102" y="1020" width="2" height="53" fill="#ef5350"/>
<rect x="2098" y="1065" width="10" height="2" fill="#ef5350"/>
<rect x="2114" y="1054" width="2" height="29" fill="#26a69a"/>
<rect x="2110" y="1059" width="10" height="6" fill="#9193a0"/>
<rect x="2111.6" y="1060.6" width="6.8" height="2.8" fill="#26a69a" shape-rendering="auto"/>
<rect x="2126" y="1031" width="2" height="32" fill="#ef5350"/>
<rect x="2122" y="1058" width="10" height="3" fill="#ef5350"/>
<rect x="2138" y="1035" width="2" height="34" fill="#26a69a"/>
<rect x="2134" y="1037" width="10" height="21" fill="#9193a0"/>
<rect x="2135.6" y="1038.6" width="6.8" height="17.8" fill="#26a69a" shape-rendering="auto"/>
<rect x="2150" y="985" width="2" height="61" fill="#26a69a"/>
<rect x="2146" y="1033" width="10" height="4" fill="#9193a0"/>
<rect x="2148" y="1034.5" width="6" height="1" fill="#26a69a"/>
<rect x="2162" y="940" width="2" height="106" fill="#26a69a"/>
<rect x="2158" y="981" width="10" height="53" fill="#9193a0"/>
<rect x="2159.6" y="982.6" width="6.8" height="49.8" fill="#26a69a" shape-rendering="auto"/>
<rect x="2174" y="980" width="2" height="56" fill="#ef5350"/>
<rect x="2170" y="982" width="10" height="9" fill="#ef5350"/>
<rect x="2186" y="935" width="2" height="84" fill="#26a69a"/>
<rect x="2182" y="959" width="10" height="34" fill="#9193a0"/>
<rect x="2183.6" y="960.6" width="6.8" height="30.8" fill="#26a69a" shape-rendering="auto"/>
<rect x="2198" y="879" width="2" height="96" fill="#26a69a"/>
<rect x="2194" y="888" width="10" height="69" fill="#9193a0"/>
<rect x="2195.6" y="889.6" width="6.8" height="65.8" fill="#26a69a" shape-rendering="auto"/>
<rect x="2210" y="799" width="2" height="150" fill="#26a69a"/>
<rect x="2206" y="866" width="10" height="24" fill="#9193a0"/>
<rect x="2207.6" y="867.6" width="6.8" height="20.8" fill="#26a69a" shape-rendering="auto"/>
<rect x="2222" y="809" width="2" height="113" fill="#26a69a"/>
<rect x="2218" y="844" width="10" height="22" fill="#9193a0"/>
<rect x="2219.6" y="845.6" width="6.8" height="18.8" fill="#26a69a" shape-rendering="auto"/>
<rect x="2234" y="805" width="2" height="93" fill="#ef5350"/>
<rect x="2230" y="847" width="10" height="10" fill="#ef5350"/>
<rect x="2246" y="829" width="2" height="53" fill="#26a69a"/>
<rect x="2242" y="854" width="10" height="3" fill="#9193a0"/>
<rect x="2259" y="620" width="2" height="233" fill="#26a69a"/>
<rect x="2255" y="793" width="10" height="60" fill="#9193a0"/>
<rect x="2256.6" y="794.6" width="6.8" height="56.8" fill="#26a69a" shape-rendering="auto"/>
<rect x="2271" y="732" width="2" height="93" fill="#26a69a"/>
<rect x="2267" y="756" width="10" height="31" fill="#9193a0"/>
<rect x="2268.6" y="757.6" width="6.8" height="27.8" fill="#26a69a" shape-rendering="auto"/>
<rect x="2283" y="675" width="2" height="102" fill="#26a69a"/>
<rect x="2279" y="688" width="10" height="71" fill="#9193a0"/>
<rect x="2280.6" y="689.6" width="6.8" height="67.8" fill="#26a69a" shape-rendering="auto"/>
<rect x="2295" y="664" width="2" height="82" fill="#ef5350"/>
<rect x="2291" y="687" width="10" height="38" fill="#ef5350"/>
<rect x="2307" y="665" width="2" height="88" fill="#26a69a"/>
<rect x="2303" y="712" width="10" height="12" fill="#9193a0"/>
<rect x="2304.6" y="713.6" width="6.8" height="8.8" fill="#26a69a" shape-rendering="auto"/>
<rect x="2319" y="692" width="2" height="38" fill="#ef5350"/>
<rect x="2315" y="711" width="10" height="2" fill="#ef5350"/>
<rect x="2331" y="693" width="2" height="126" fill="#ef5350"/>
<rect x="2327" y="714" width="10" height="77" fill="#ef5350"/>
<rect x="2343" y="718" width="2" height="101" fill="#26a69a"/>
<rect x="2339" y="746" width="10" height="42" fill="#9193a0"/>
<rect x="2340.6" y="747.6" width="6.8" height="38.8" fill="#26a69a" shape-rendering="auto"/>
<rect x="2355" y="724" width="2" height="49" fill="#ef5350"/>
<rect x="2351" y="744" width="10" height="7" fill="#ef5350"/>
<rect x="2367" y="724" width="2" height="60" fill="#26a69a"/>
<rect x="2363" y="738" width="10" height="10" fill="#9193a0"/>
<rect x="2364.6" y="739.6" width="6.8" height="6.8" fill="#26a69a" shape-rendering="auto"/>
<rect x="2379" y="680" width="2" height="64" fill="#26a69a"/>
<rect x="2375" y="730" width="10" height="6" fill="#9193a0"/>
<rect x="2376.6" y="731.6" width="6.8" height="2.8" fill="#26a69a" shape-rendering="auto"/>
<rect x="2391" y="695" width="2" height="41" fill="#26a69a"/>
<rect x="2387" y="704" width="10" height="25" fill="#9193a0"/>
<rect x="2388.6" y="705.6" width="6.8" height="21.8" fill="#26a69a" shape-rendering="auto"/>
<rect x="2403" y="697" width="2" height="101" fill="#ef5350"/>
<rect x="2399" y="705" width="10" height="54" fill="#ef5350"/>
<rect x="2416" y="713" width="2" height="51" fill="#26a69a"/>
<rect x="2412" y="729" width="10" height="30" fill="#9193a0"/>
<rect x="2413.6" y="730.6" width="6.8" height="26.8" fill="#26a69a" shape-rendering="auto"/>
<rect x="2428" y="705" width="2" height="72" fill="#26a69a"/>
<rect x="2424" y="714" width="10" height="16" fill="#9193a0"/>
<rect x="2425.6" y="715.6" width="6.8" height="12.8" fill="#26a69a" shape-rendering="auto"/>
<rect x="2440" y="613" width="2" height="105" fill="#26a69a"/>
<rect x="2436" y="699" width="10" height="12" fill="#9193a0"/>
<rect x="2437.6" y="700.6" width="6.8" height="8.8" fill="#26a69a" shape-rendering="auto"/>
<rect x="2452" y="622" width="2" height="83" fill="#26a69a"/>
<rect x="2448" y="643" width="10" height="48" fill="#9193a0"/>
<rect x="2449.6" y="644.6" width="6.8" height="44.8" fill="#26a69a" shape-rendering="auto"/>
<rect x="2464" y="345" width="2" height="295" fill="#26a69a"/>
<rect x="2460" y="449" width="10" height="187" fill="#9193a0"/>
<rect x="2461.6" y="450.6" width="6.8" height="183.8" fill="#26a69a" shape-rendering="auto"/>
<rect x="2476" y="386" width="2" height="133" fill="#ef5350"/>
<rect x="2472" y="455" width="10" height="30" fill="#ef5350"/>
<rect x="2488" y="435" width="2" height="84" fill="#ef5350"/>
<rect x="2484" y="485" width="10" height="25" fill="#ef5350"/>
<rect x="2500" y="471" width="2" height="66" fill="#26a69a"/>
<rect x="2496" y="478" width="10" height="31" fill="#9193a0"/>
<rect x="2497.6" y="479.6" width="6.8" height="27.8" fill="#26a69a" shape-rendering="auto"/>
<rect x="2512" y="466" width="2" height="98" fill="#ef5350"/>
<rect x="2508" y="475" width="10" height="67" fill="#ef5350"/>
<rect x="2524" y="534" width="2" height="205" fill="#ef5350"/>
<rect x="2520" y="536" width="10" height="161" fill="#ef5350"/>
<rect x="2536" y="583" width="2" height="115" fill="#26a69a"/>
<rect x="2532" y="625" width="10" height="73" fill="#9193a0"/>
<rect x="2533.6" y="626.6" width="6.8" height="69.8" fill="#26a69a" shape-rendering="auto"/>
<rect x="2548" y="605" width="2" height="66" fill="#26a69a"/>
<rect x="2544" y="624" width="10" height="2" fill="#9193a0"/>
<rect x="2560" y="566" width="2" height="87" fill="#ef5350"/>
<rect x="2556" y="622" width="10" height="8" fill="#ef5350"/>
<rect x="2573" y="608" width="2" height="102" fill="#ef5350"/>
<rect x="2569" y="628" width="10" height="39" fill="#ef5350"/>
<rect x="2585" y="630" width="2" height="72" fill="#26a69a"/>
<rect x="2581" y="638" width="10" height="30" fill="#9193a0"/>
<rect x="2582.6" y="639.6" width="6.8" height="26.8" fill="#26a69a" shape-rendering="auto"/>
<rect x="2597" y="531" width="2" height="125" fill="#26a69a"/>
<rect x="2593" y="541" width="10" height="98" fill="#9193a0"/>
<rect x="2594.6" y="542.6" width="6.8" height="94.8" fill="#26a69a" shape-rendering="auto"/>
<rect x="2609" y="518" width="2" height="132" fill="#ef5350"/>
<rect x="2605" y="532" width="10" height="108" fill="#ef5350"/>
<rect x="2621" y="579" width="2" height="70" fill="#26a69a"/>
<rect x="2617" y="597" width="10" height="45" fill="#9193a0"/>
<rect x="2618.6" y="598.6" width="6.8" height="41.8" fill="#26a69a" shape-rendering="auto"/>
<rect x="2633" y="573" width="2" height="37" fill="#26a69a"/>
<rect x="2629" y="595" width="10" height="2" fill="#9193a0"/>
<rect x="2645" y="516" width="2" height="86" fill="#26a69a"/>
<rect x="2641" y="581" width="10" height="15" fill="#9193a0"/>
<rect x="2642.6" y="582.6" width="6.8" height="11.8" fill="#26a69a" shape-rendering="auto"/>
<rect x="2657" y="540" width="2" height="70" fill="#26a69a"/>
<rect x="2653" y="567" width="10" height="10" fill="#9193a0"/>
<rect x="2654.6" y="568.6" width="6.8" height="6.8" fill="#26a69a" shape-rendering="auto"/>
<rect x="2669" y="554" width="2" height="69" fill="#ef5350"/>
<rect x="2665" y="565" width="10" height="42" fill="#ef5350"/>
<rect x="2681" y="596" width="2" height="60" fill="#26a69a"/>
<rect x="2677" y="598" width="10" height="8" fill="#9193a0"/>
<rect x="2678.6" y="599.6" width="6.8" height="4.8" fill="#26a69a" shape-rendering="auto"/>
<rect x="2693" y="547" width="2" height="67" fill="#26a69a"/>
<rect x="2689" y="599" width="10" height="2" fill="#9193a0"/>
<rect x="2705" y="592" width="2" height="94" fill="#ef5350"/>
<rect x="2701" y="603" width="10" height="56" fill="#ef5350"/>
<rect x="2717" y="648" width="2" height="64" fill="#ef5350"/>
<rect x="2713" y="656" width="10" height="17" fill="#ef5350"/>
<rect x="2730" y="594" width="2" height="85" fill="#26a69a"/>
<rect x="2726" y="629" width="10" height="45" fill="#9193a0"/>
<rect x="2727.6" y="630.6" width="6.8" height="41.8" fill="#26a69a" shape-rendering="auto"/>
<rect x="2742" y="625" width="2" height="52" fill="#ef5350"/>
<rect x="2738" y="631" width="10" height="29" fill="#ef5350"/>
<rect x="2754" y="657" width="2" height="56" fill="#ef5350"/>
<rect x="2750" y="659" width="10" height="52" fill="#ef5350"/>
<rect x="2766" y="669" width="2" height="45" fill="#26a69a"/>
<rect x="2762" y="687" width="10" height="22" fill="#9193a0"/>
<rect x="2763.6" y="688.6" width="6.8" height="18.8" fill="#26a69a" shape-rendering="auto"/>
<rect x="2778" y="681" width="2" height="53" fill="#ef5350"/>
<rect x="2774" y="686" width="10" height="19" fill="#ef5350"/>
<rect x="2790" y="706" width="2" height="121" fill="#ef5350"/>
<rect x="2786" y="707" width="10" height="65" fill="#ef5350"/>
<rect x="2802" y="764" width="2" height="63" fill="#ef5350"/>
<rect x="2798" y="773" width="10" height="26" fill="#ef5350"/>
<rect x="2814" y="779" width="2" height="26" fill="#ef5350"/>
<rect x="2810" y="796" width="10" height="3" fill="#ef5350"/>
<rect x="2826" y="786" width="2" height="33" fill="#26a69a"/>
<rect x="2822" y="794" width="10" height="7" fill="#9193a0"/>
<rect x="2823.6" y="795.6" width="6.8" height="3.8" fill="#26a69a" shape-rendering="auto"/>
<rect x="2838" y="779" width="2" height="66" fill="#ef5350"/>
<rect x="2834" y="791" width="10" height="6" fill="#ef5350"/>
<rect x="2850" y="742" width="2" height="91" fill="#ef5350"/>
<rect x="2846" y="800" width="10" height="15" fill="#ef5350"/>
<rect x="2862" y="794" width="2" height="126" fill="#ef5350"/>
<rect x="2858" y="814" width="10" height="84" fill="#ef5350"/>
<rect x="2874" y="870" width="2" height="69" fill="#26a69a"/>
<rect x="2870" y="877" width="10" height="19" fill="#9193a0"/>
<rect x="2871.6" y="878.6" width="6.8" height="15.8" fill="#26a69a" shape-rendering="auto"/>
<rect x="2887" y="852" width="2" height="60" fill="#26a69a"/>
<rect x="2883" y="875" width="10" height="2" fill="#9193a0"/>
<rect x="2899" y="825" width="2" height="75" fill="#26a69a"/>
<rect x="2895" y="835" width="10" height="42" fill="#9193a0"/>
<rect x="2896.6" y="836.6" width="6.8" height="38.8" fill="#26a69a" shape-rendering="auto"/>
<rect x="2911" y="787" width="2" height="80" fill="#26a69a"/>
<rect x="2907" y="803" width="10" height="28" fill="#9193a0"/>
<rect x="2908.6" y="804.6" width="6.8" height="24.8" fill="#26a69a" shape-rendering="auto"/>
<rect x="2923" y="729" width="2" height="92" fill="#26a69a"/>
<rect x="2919" y="782" width="10" height="20" fill="#9193a0"/>
<rect x="2920.6" y="783.6" width="6.8" height="16.8" fill="#26a69a" shape-rendering="auto"/>
<rect x="2935" y="766" width="2" height="122" fill="#ef5350"/>
<rect x="2931" y="780" width="10" height="87" fill="#ef5350"/>
<rect x="2947" y="846" width="2" height="39" fill="#26a69a"/>
<rect x="2943" y="856" width="10" height="10" fill="#9193a0"/>
<rect x="2944.6" y="857.6" width="6.8" height="6.8" fill="#26a69a" shape-rendering="auto"/>
<rect x="2959" y="791" width="2" height="70" fill="#26a69a"/>
<rect x="2955" y="797" width="10" height="59" fill="#9193a0"/>
<rect x="2956.6" y="798.6" width="6.8" height="55.8" fill="#26a69a" shape-rendering="auto"/>
<rect x="2971" y="773" width="2" height="72" fill="#ef5350"/>
<rect x="2967" y="796" width="10" height="42" fill="#ef5350"/>
<rect x="2983" y="794" width="2" height="42" fill="#26a69a"/>
<rect x="2979" y="819" width="10" height="17" fill="#9193a0"/>
<rect x="2980.6" y="820.6" width="6.8" height="13.8" fill="#26a69a" shape-rendering="auto"/>
<rect x="2995" y="807" width="2" height="66" fill="#ef5350"/>
<rect x="2991" y="816" width="10" height="46" fill="#ef5350"/>
<rect x="3007" y="804" width="2" height="74" fill="#26a69a"/>
<rect x="3003" y="816" width="10" height="47" fill="#9193a0"/>
<rect x="3004.6" y="817.6" width="6.8" height="43.8" fill="#26a69a" shape-rendering="auto"/>
<rect x="3019" y="806" width="2" height="74" fill="#ef5350"/>
<rect x="3015" y="816" width="10" height="35" fill="#ef5350"/>
<rect x="3031" y="815" width="2" height="38" fill="#26a69a"/>
<rect x="3027" y="824" width="10" height="25" fill="#9193a0"/>
<rect x="3028.6" y="825.6" width="6.8" height="21.8" fill="#26a69a" shape-rendering="auto"/>
<rect x="3044" y="821" width="2" height="28" fill="#ef5350"/>
<rect x="3040" y="821" width="10" height="23" fill="#ef5350"/>
</g>
<line x1="25" y1="844" x2="3275" y2="844" stroke="#ef5350" stroke-width="2" stroke-dasharray="2 4" shape-rendering="crispEdges"/>
<line x1="25" y1="1314" x2="3401" y2="1314" stroke="#6a6d78" stroke-width="2" stroke-dasharray="10 12" shape-rendering="crispEdges"/>
<line x1="25" y1="1489" x2="3401" y2="1489" stroke="#6a6d78" stroke-width="2" stroke-dasharray="10 12" shape-rendering="crispEdges"/>
<line x1="25" y1="1401" x2="3401" y2="1401" stroke="#aeafba" stroke-width="2" stroke-dasharray="10 12" shape-rendering="crispEdges"/>
<polyline points="25.0,1390.0 37.0,1387.2 50.0,1384.0 62.0,1381.6 74.0,1380.1 86.0,1379.5 98.0,1380.2 110.0,1380.9 122.0,1381.9 134.0,1381.2 146.0,1378.8 158.0,1376.9 170.0,1375.9 182.0,1374.8 194.0,1373.9 207.0,1374.8 219.0,1376.9 231.0,1378.1 243.0,1379.4 255.0,1378.9 267.0,1378.7 279.0,1378.3 291.0,1374.2 303.0,1371.9 315.0,1370.5 327.0,1369.9 339.0,1367.9 351.0,1366.6 364.0,1358.0 376.0,1355.0 388.0,1350.4 400.0,1348.6 412.0,1349.3 424.0,1351.6 436.0,1353.6 448.0,1354.7 460.0,1357.4 472.0,1358.5 484.0,1361.3 496.0,1362.3 508.0,1367.3 521.0,1372.5 533.0,1384.9 545.0,1391.0 557.0,1398.3 569.0,1403.3 581.0,1405.5 593.0,1407.1 605.0,1408.0 617.0,1408.6 629.0,1409.1 641.0,1411.4 653.0,1412.5 665.0,1415.3 678.0,1413.3 690.0,1410.0 702.0,1406.9 714.0,1405.7 726.0,1405.9 738.0,1405.8 750.0,1407.3 762.0,1408.9 774.0,1409.5 786.0,1414.4 798.0,1417.5 810.0,1420.2 822.0,1423.6 835.0,1425.6 847.0,1428.7 859.0,1432.2 871.0,1435.5 883.0,1437.9 895.0,1438.3 907.0,1439.0 919.0,1438.3 931.0,1436.5 943.0,1436.5 955.0,1434.5 967.0,1432.5 979.0,1427.8 992.0,1423.6 1004.0,1421.8 1016.0,1421.2 1028.0,1421.4 1040.0,1420.9 1052.0,1423.6 1064.0,1426.2 1076.0,1429.1 1088.0,1430.6 1100.0,1433.8 1112.0,1436.2 1124.0,1437.4 1136.0,1438.9 1148.0,1443.2 1161.0,1448.0 1173.0,1451.4 1185.0,1453.7 1197.0,1455.6 1209.0,1456.7 1221.0,1455.8 1233.0,1453.1 1245.0,1446.8 1257.0,1443.1 1269.0,1434.3 1281.0,1422.9 1293.0,1416.2 1305.0,1409.0 1318.0,1400.0 1330.0,1393.4 1342.0,1387.3 1354.0,1380.1 1366.0,1373.2 1378.0,1369.3 1390.0,1364.4 1402.0,1365.6 1414.0,1372.2 1426.0,1374.3 1438.0,1381.2 1450.0,1391.4 1462.0,1398.2 1475.0,1406.0 1487.0,1414.2 1499.0,1419.1 1511.0,1424.1 1523.0,1430.7 1535.0,1436.8 1547.0,1441.9 1559.0,1447.6 1571.0,1448.0 1583.0,1445.2 1595.0,1446.0 1607.0,1445.7 1619.0,1445.3 1632.0,1443.0 1644.0,1441.5 1656.0,1440.4 1668.0,1438.1 1680.0,1436.0 1692.0,1433.6 1704.0,1431.9 1716.0,1428.5 1728.0,1424.2 1740.0,1421.7 1752.0,1421.1 1764.0,1419.4 1776.0,1418.6 1789.0,1417.6 1801.0,1417.9 1813.0,1418.4 1825.0,1417.6 1837.0,1419.0 1849.0,1420.3 1861.0,1425.0 1873.0,1428.6 1885.0,1431.1 1897.0,1435.5 1909.0,1437.4 1921.0,1439.2 1933.0,1441.4 1946.0,1443.7 1958.0,1445.3 1970.0,1446.8 1982.0,1447.3 1994.0,1449.7 2006.0,1452.4 2018.0,1452.4 2030.0,1450.3 2042.0,1448.7 2054.0,1448.2 2066.0,1446.0 2078.0,1445.9 2090.0,1442.9 2103.0,1440.6 2115.0,1437.3 2127.0,1434.5 2139.0,1429.6 2151.0,1424.7 2163.0,1416.0 2175.0,1406.7 2187.0,1398.0 2199.0,1386.3 2211.0,1374.2 2223.0,1362.2 2235.0,1351.6 2247.0,1340.6 2260.0,1330.3 2272.0,1319.1 2284.0,1307.7 2296.0,1298.7 2308.0,1291.5 2320.0,1284.6 2332.0,1285.9 2344.0,1285.0 2356.0,1285.8 2368.0,1288.7 2380.0,1291.9 2392.0,1295.0 2404.0,1300.0 2417.0,1304.1 2429.0,1309.3 2441.0,1314.7 2453.0,1319.5 2465.0,1318.5 2477.0,1319.4 2489.0,1321.3 2501.0,1317.8 2513.0,1318.2 2525.0,1323.1 2537.0,1326.8 2549.0,1330.6 2561.0,1335.4 2574.0,1338.1 2586.0,1340.9 2598.0,1342.1 2610.0,1346.5 2622.0,1351.4 2634.0,1359.4 2646.0,1365.4 2658.0,1370.0 2670.0,1376.4 2682.0,1379.9 2694.0,1378.8 2706.0,1381.1 2718.0,1383.9 2731.0,1385.1 2743.0,1386.2 2755.0,1389.5 2767.0,1394.1 2779.0,1396.6 2791.0,1401.7 2803.0,1407.6 2815.0,1413.7 2827.0,1420.0 2839.0,1425.1 2851.0,1430.9 2863.0,1438.7 2875.0,1443.6 2888.0,1447.9 2900.0,1451.7 2912.0,1453.2 2924.0,1452.3 2936.0,1454.8 2948.0,1456.3 2960.0,1453.7 2972.0,1451.7 2984.0,1449.0 2996.0,1447.8 3008.0,1444.8 3020.0,1442.3 3032.0,1436.9 3045.0,1433.1" fill="none" stroke="#fdeb4a" stroke-width="2.4" stroke-linejoin="round" stroke-linecap="round" clip-path="url(#cr)" stroke-opacity="1"/>
<polyline points="25.0,1390.2 37.0,1354.2 50.0,1350.4 62.0,1359.8 74.0,1357.2 86.0,1369.9 98.0,1375.6 110.0,1375.0 122.0,1416.7 134.0,1407.5 146.0,1379.9 158.0,1370.0 170.0,1372.7 182.0,1368.0 194.0,1377.6 207.0,1366.4 219.0,1380.6 231.0,1376.4 243.0,1375.7 255.0,1361.9 267.0,1373.6 279.0,1369.7 291.0,1358.2 303.0,1376.3 315.0,1359.2 327.0,1362.1 339.0,1345.1 351.0,1349.7 364.0,1256.8 376.0,1325.2 388.0,1316.2 400.0,1350.5 412.0,1385.3 424.0,1394.4 436.0,1401.1 448.0,1386.4 460.0,1395.5 472.0,1391.3 484.0,1398.7 496.0,1375.6 508.0,1416.0 521.0,1422.0 533.0,1430.7 545.0,1410.5 557.0,1418.6 569.0,1420.6 581.0,1415.1 593.0,1417.5 605.0,1413.5 617.0,1395.2 629.0,1402.9 641.0,1423.0 653.0,1413.9 665.0,1415.1 678.0,1388.0 690.0,1375.8 702.0,1387.0 714.0,1393.4 726.0,1422.2 738.0,1418.5 750.0,1435.6 762.0,1440.4 774.0,1422.5 786.0,1463.2 798.0,1446.5 810.0,1459.9 822.0,1462.1 835.0,1442.6 847.0,1432.1 859.0,1424.2 871.0,1433.1 883.0,1428.1 895.0,1426.7 907.0,1428.2 919.0,1426.9 931.0,1414.9 943.0,1422.3 955.0,1434.6 967.0,1419.5 979.0,1393.4 992.0,1404.1 1004.0,1417.8 1016.0,1422.3 1028.0,1428.0 1040.0,1425.0 1052.0,1465.9 1064.0,1464.1 1076.0,1468.1 1088.0,1448.7 1100.0,1459.3 1112.0,1456.5 1124.0,1450.7 1136.0,1440.3 1148.0,1454.5 1161.0,1470.6 1173.0,1465.6 1185.0,1454.3 1197.0,1455.4 1209.0,1439.2 1221.0,1454.1 1233.0,1425.5 1245.0,1380.9 1257.0,1396.2 1269.0,1335.8 1281.0,1298.0 1293.0,1356.2 1305.0,1340.2 1318.0,1328.6 1330.0,1378.0 1342.0,1379.2 1354.0,1354.6 1366.0,1358.8 1378.0,1383.8 1390.0,1386.3 1402.0,1442.2 1414.0,1473.5 1426.0,1425.3 1438.0,1432.7 1450.0,1439.7 1462.0,1452.3 1475.0,1449.1 1487.0,1443.9 1499.0,1446.5 1511.0,1449.2 1523.0,1446.2 1535.0,1443.9 1547.0,1455.6 1559.0,1466.2 1571.0,1447.5 1583.0,1434.9 1595.0,1436.5 1607.0,1427.9 1619.0,1434.5 1632.0,1420.1 1644.0,1428.3 1656.0,1428.7 1668.0,1413.0 1680.0,1420.8 1692.0,1412.3 1704.0,1420.1 1716.0,1408.1 1728.0,1405.3 1740.0,1413.4 1752.0,1425.7 1764.0,1414.0 1776.0,1416.0 1789.0,1419.9 1801.0,1424.5 1813.0,1435.2 1825.0,1417.4 1837.0,1432.9 1849.0,1439.6 1861.0,1478.5 1873.0,1469.2 1885.0,1444.3 1897.0,1466.1 1909.0,1439.8 1921.0,1451.9 1933.0,1443.9 1946.0,1448.3 1958.0,1443.2 1970.0,1445.2 1982.0,1441.7 1994.0,1450.4 2006.0,1470.7 2018.0,1440.1 2030.0,1449.4 2042.0,1446.8 2054.0,1437.7 2066.0,1434.5 2078.0,1438.8 2090.0,1409.4 2103.0,1411.6 2115.0,1401.9 2127.0,1404.7 2139.0,1377.3 2151.0,1373.0 2163.0,1327.5 2175.0,1340.8 2187.0,1319.0 2199.0,1285.1 2211.0,1277.5 2223.0,1270.0 2235.0,1286.1 2247.0,1285.1 2260.0,1264.5 2272.0,1255.1 2284.0,1241.7 2296.0,1279.5 2308.0,1275.9 2320.0,1276.5 2332.0,1345.6 2344.0,1327.8 2356.0,1330.8 2368.0,1326.0 2380.0,1322.7 2392.0,1312.2 2404.0,1356.8 2417.0,1343.0 2429.0,1336.8 2441.0,1330.2 2453.0,1309.1 2465.0,1265.3 2477.0,1288.7 2489.0,1303.9 2501.0,1296.6 2513.0,1333.4 2525.0,1399.3 2537.0,1377.0 2549.0,1376.9 2561.0,1378.9 2574.0,1393.8 2586.0,1383.4 2598.0,1353.1 2610.0,1391.1 2622.0,1378.1 2634.0,1377.5 2646.0,1373.0 2658.0,1368.4 2670.0,1386.1 2682.0,1382.6 2694.0,1383.3 2706.0,1409.6 2718.0,1415.4 2731.0,1395.6 2743.0,1409.1 2755.0,1429.7 2767.0,1418.1 2779.0,1425.7 2791.0,1450.3 2803.0,1459.1 2815.0,1459.4 2827.0,1455.9 2839.0,1457.3 2851.0,1464.5 2863.0,1492.3 2875.0,1477.8 2888.0,1476.4 2900.0,1448.8 2912.0,1429.1 2924.0,1417.2 2936.0,1453.4 2948.0,1446.5 2960.0,1414.1 2972.0,1431.6 2984.0,1421.3 2996.0,1439.3 3008.0,1415.1 3020.0,1429.6 3032.0,1416.1 3045.0,1424.9" fill="none" stroke="#7e57c2" stroke-width="2.4" stroke-linejoin="round" stroke-linecap="round" clip-path="url(#cr)" stroke-opacity="1"/>
<g shape-rendering="crispEdges">
<rect x="25" y="1296" width="3575" height="2" fill="#e0e3eb"/>
<rect x="25" y="67" width="3575" height="1517" fill="none" stroke="#ecedf2" stroke-width="2"/>
<rect x="3405" y="67" width="2" height="1516" fill="#474747"/>
<rect x="25" y="1514" width="3575" height="2" fill="#474747"/>
</g>
<text x="23.8" y="47.7" font-size="29.8" fill="#131722" stroke="#131722" stroke-width="0.3" text-anchor="start" font-weight="normal" textLength="983.5" lengthAdjust="spacingAndGlyphs" >Jake_Simmons published on TradingView.com, Mar 24, 2023 06:22 UTC-4</text>
<text x="3428.7" y="1210.2" font-size="29.3" fill="#4c4c4c" stroke="#4c4c4c" stroke-width="0.45" text-anchor="start" font-weight="normal" textLength="145.7" lengthAdjust="spacingAndGlyphs" >0.00000700</text>
<text x="3428.7" y="1112.2" font-size="29.3" fill="#4c4c4c" stroke="#4c4c4c" stroke-width="0.45" text-anchor="start" font-weight="normal" textLength="145.7" lengthAdjust="spacingAndGlyphs" >0.00000800</text>
<text x="3428.7" y="1014.2" font-size="29.3" fill="#4c4c4c" stroke="#4c4c4c" stroke-width="0.45" text-anchor="start" font-weight="normal" textLength="145.7" lengthAdjust="spacingAndGlyphs" >0.00000900</text>
<text x="3428.7" y="916.2" font-size="29.3" fill="#4c4c4c" stroke="#4c4c4c" stroke-width="0.45" text-anchor="start" font-weight="normal" textLength="145.7" lengthAdjust="spacingAndGlyphs" >0.00001000</text>
<text x="3428.7" y="819.2" font-size="29.3" fill="#4c4c4c" stroke="#4c4c4c" stroke-width="0.45" text-anchor="start" font-weight="normal" textLength="145.7" lengthAdjust="spacingAndGlyphs" >0.00001100</text>
<text x="3428.7" y="721.2" font-size="29.3" fill="#4c4c4c" stroke="#4c4c4c" stroke-width="0.45" text-anchor="start" font-weight="normal" textLength="145.7" lengthAdjust="spacingAndGlyphs" >0.00001200</text>
<text x="3428.7" y="623.2" font-size="29.3" fill="#4c4c4c" stroke="#4c4c4c" stroke-width="0.45" text-anchor="start" font-weight="normal" textLength="145.7" lengthAdjust="spacingAndGlyphs" >0.00001300</text>
<text x="3428.7" y="526.2" font-size="29.3" fill="#4c4c4c" stroke="#4c4c4c" stroke-width="0.45" text-anchor="start" font-weight="normal" textLength="145.7" lengthAdjust="spacingAndGlyphs" >0.00001400</text>
<text x="3428.7" y="428.2" font-size="29.3" fill="#4c4c4c" stroke="#4c4c4c" stroke-width="0.45" text-anchor="start" font-weight="normal" textLength="145.7" lengthAdjust="spacingAndGlyphs" >0.00001500</text>
<text x="3428.7" y="330.2" font-size="29.3" fill="#4c4c4c" stroke="#4c4c4c" stroke-width="0.45" text-anchor="start" font-weight="normal" textLength="145.7" lengthAdjust="spacingAndGlyphs" >0.00001600</text>
<text x="3428.7" y="232.2" font-size="29.3" fill="#4c4c4c" stroke="#4c4c4c" stroke-width="0.45" text-anchor="start" font-weight="normal" textLength="145.7" lengthAdjust="spacingAndGlyphs" >0.00001700</text>
<defs><linearGradient id="fade" x1="0" y1="0" x2="0" y2="1"><stop offset="0" stop-color="#fff" stop-opacity="1"/><stop offset="1" stop-color="#fff" stop-opacity="0"/></linearGradient><clipPath id="c18"><rect x="3420" y="123" width="170" height="30"/></clipPath></defs>
<g clip-path="url(#c18)">
<text x="3428.7" y="135.2" font-size="29.3" fill="#8a8a8a" stroke="#8a8a8a" stroke-width="0.45" text-anchor="start" font-weight="normal" textLength="145.7" lengthAdjust="spacingAndGlyphs" >0.00001800</text>
</g>
<rect x="3420" y="122" width="170" height="16" fill="url(#fade)"/>
<text x="3431.6" y="108.6" font-size="28" fill="#4c4c4c" stroke="#4c4c4c" stroke-width="0.45" text-anchor="start" font-weight="normal" textLength="46.7" lengthAdjust="spacingAndGlyphs" >USD</text>
<text x="3428.5" y="1368" font-size="29.3" fill="#4c4c4c" stroke="#4c4c4c" stroke-width="0.45" text-anchor="start" font-weight="normal" textLength="71.0" lengthAdjust="spacingAndGlyphs" >60.00</text>
<text x="3428.5" y="1455.2" font-size="29.3" fill="#4c4c4c" stroke="#4c4c4c" stroke-width="0.45" text-anchor="start" font-weight="normal" textLength="71.0" lengthAdjust="spacingAndGlyphs" >40.00</text>
<text x="184.1" y="1559" font-size="28.6" fill="#4c4c4c" stroke="#4c4c4c" stroke-width="0.3" text-anchor="start" font-weight="normal" textLength="46.2" lengthAdjust="spacingAndGlyphs" >Aug</text>
<text x="558.95" y="1559" font-size="28.6" fill="#4c4c4c" stroke="#4c4c4c" stroke-width="0.3" text-anchor="start" font-weight="normal" textLength="44.5" lengthAdjust="spacingAndGlyphs" >Sep</text>
<text x="919.25" y="1559" font-size="28.6" fill="#4c4c4c" stroke="#4c4c4c" stroke-width="0.3" text-anchor="start" font-weight="normal" textLength="47.9" lengthAdjust="spacing" >Oct</text>
<text x="1294.25" y="1559" font-size="28.6" fill="#4c4c4c" stroke="#4c4c4c" stroke-width="0.3" text-anchor="start" font-weight="normal" textLength="47.9" lengthAdjust="spacingAndGlyphs" >Nov</text>
<text x="1656.6" y="1559" font-size="28.6" fill="#4c4c4c" stroke="#4c4c4c" stroke-width="0.3" text-anchor="start" font-weight="normal" textLength="47.2" lengthAdjust="spacingAndGlyphs" >Dec</text>
<text x="2023.8" y="1559" font-size="28.6" fill="#4c4c4c" stroke="#4c4c4c" stroke-width="0.3" text-anchor="start" font-weight="bold" textLength="60.8" lengthAdjust="spacingAndGlyphs" >2023</text>
<text x="2405.95" y="1559" font-size="28.6" fill="#4c4c4c" stroke="#4c4c4c" stroke-width="0.3" text-anchor="start" font-weight="normal" textLength="46.5" lengthAdjust="spacingAndGlyphs" >Feb</text>
<text x="2743.1" y="1559" font-size="28.6" fill="#4c4c4c" stroke="#4c4c4c" stroke-width="0.3" text-anchor="start" font-weight="normal" textLength="48.2" lengthAdjust="spacingAndGlyphs" >Mar</text>
<text x="3120.1" y="1559" font-size="28.6" fill="#4c4c4c" stroke="#4c4c4c" stroke-width="0.3" text-anchor="start" font-weight="normal" textLength="42.2" lengthAdjust="spacingAndGlyphs" >Apr</text>
<text x="45.1" y="115.2" font-size="30.2" fill="#4c4c4c" stroke="#4c4c4c" stroke-width="0.45" text-anchor="start" font-weight="normal" textLength="357.4" lengthAdjust="spacingAndGlyphs" >SHIB / Dollar, 1D, BITFINEX</text>
<text x="422.3" y="115.2" font-size="30.2" fill="#4c4c4c" stroke="#4c4c4c" stroke-width="0.45" text-anchor="start" font-weight="normal" textLength="19.2" lengthAdjust="spacingAndGlyphs" >O</text>
<text x="445.1" y="115.2" font-size="30.2" fill="#ef5350" stroke="#ef5350" stroke-width="0.45" text-anchor="start" font-weight="normal" textLength="145.6" lengthAdjust="spacingAndGlyphs" >0.00001087</text>
<text x="609.9" y="115.2" font-size="30.2" fill="#4c4c4c" stroke="#4c4c4c" stroke-width="0.45" text-anchor="start" font-weight="normal" textLength="19.2" lengthAdjust="spacingAndGlyphs" >H</text>
<text x="630.0" y="115.2" font-size="30.2" fill="#ef5350" stroke="#ef5350" stroke-width="0.45" text-anchor="start" font-weight="normal" textLength="145.6" lengthAdjust="spacingAndGlyphs" >0.00001087</text>
<text x="795.2" y="115.2" font-size="30.2" fill="#4c4c4c" stroke="#4c4c4c" stroke-width="0.45" text-anchor="start" font-weight="normal" textLength="16.4" lengthAdjust="spacingAndGlyphs" >L</text>
<text x="810.4" y="115.2" font-size="30.2" fill="#ef5350" stroke="#ef5350" stroke-width="0.45" text-anchor="start" font-weight="normal" textLength="145.6" lengthAdjust="spacingAndGlyphs" >0.00001059</text>
<text x="974.7" y="115.2" font-size="30.2" fill="#4c4c4c" stroke="#4c4c4c" stroke-width="0.45" text-anchor="start" font-weight="normal" textLength="18.4" lengthAdjust="spacingAndGlyphs" >C</text>
<text x="992.8" y="115.2" font-size="30.2" fill="#ef5350" stroke="#ef5350" stroke-width="0.45" text-anchor="start" font-weight="normal" textLength="145.6" lengthAdjust="spacingAndGlyphs" >0.00001064</text>
<text x="1157.7" y="115.2" font-size="30.2" fill="#ef5350" stroke="#ef5350" stroke-width="0.45" text-anchor="start" font-weight="normal" textLength="278.5" lengthAdjust="spacingAndGlyphs" >&#8722;0.00000021 (&#8722;1.94%)</text>
<text x="45.1" y="156.8" font-size="30.2" fill="#4c4c4c" stroke="#4c4c4c" stroke-width="0.45" text-anchor="start" font-weight="normal" textLength="129.7" lengthAdjust="spacingAndGlyphs" >Vol &#183; SHIB</text>
<text x="196.2" y="156.8" font-size="30.2" fill="#ef5350" stroke="#ef5350" stroke-width="0.45" text-anchor="start" font-weight="normal" textLength="120.8" lengthAdjust="spacingAndGlyphs" >172.383M</text>
<text x="45.5" y="199.3" font-size="30.2" fill="#4c4c4c" stroke="#4c4c4c" stroke-width="0.45" text-anchor="start" font-weight="normal" textLength="263.0" lengthAdjust="spacingAndGlyphs" >EMA 20/50/100/200</text>
<text x="327.2" y="199.3" font-size="30.2" fill="#ff8000" stroke="#ff8000" stroke-width="0.45" text-anchor="start" font-weight="normal" textLength="145.6" lengthAdjust="spacingAndGlyphs" >0.00001133</text>
<text x="492.4" y="199.3" font-size="30.2" fill="#00f0ff" stroke="#00f0ff" stroke-width="0.45" text-anchor="start" font-weight="normal" textLength="145.8" lengthAdjust="spacingAndGlyphs" >0.00001119</text>
<text x="657.3" y="199.3" font-size="30.2" fill="#0000ff" stroke="#0000ff" stroke-width="0.45" text-anchor="start" font-weight="normal" textLength="145.8" lengthAdjust="spacingAndGlyphs" >0.00001185</text>
<text x="44.9" y="1346.3" font-size="30.2" fill="#4c4c4c" stroke="#4c4c4c" stroke-width="0.45" text-anchor="start" font-weight="normal" textLength="356.0" lengthAdjust="spacingAndGlyphs" >RSI (14, close, SMA, 14, 2)</text>
<text x="419.5" y="1346.3" font-size="30.2" fill="#7e57c2" stroke="#7e57c2" stroke-width="0.45" text-anchor="start" font-weight="normal" textLength="71.0" lengthAdjust="spacingAndGlyphs" >44.64</text>
<text x="509.2" y="1346.3" font-size="30.2" fill="#fdeb4a" stroke="#fdeb4a" stroke-width="0.45" text-anchor="start" font-weight="normal" textLength="70.6" lengthAdjust="spacingAndGlyphs" >42.75</text>
<g stroke="#4c4c4c" stroke-width="2" fill="none"><ellipse cx="614.6" cy="1336.2" rx="9.9" ry="8.9"/><line x1="603.3000000000001" y1="1346.7" x2="625.2" y2="1325.6"/></g>
<g stroke="#4c4c4c" stroke-width="2" fill="none"><ellipse cx="663.1" cy="1336.2" rx="9.9" ry="8.9"/><line x1="651.8000000000001" y1="1346.7" x2="673.7" y2="1325.6"/></g>
<path d="M3279,824 H3403 V864 H3279 a4,4 0 0 1 -4,-4 V828 a4,4 0 0 1 4,-4 z" fill="#ef5350"/>
<rect x="3403" y="822" width="2" height="44" fill="#fff"/>
<path d="M3405,824 H3584 a4,4 0 0 1 4,4 V892 a4,4 0 0 1 -4,4 H3405 z" fill="#ef5350"/>
<text x="3287.6" y="853.5" font-size="28" fill="#fff" stroke="#fff" stroke-width="0.45" text-anchor="start" font-weight="normal" textLength="102.3" lengthAdjust="spacingAndGlyphs" >SHIBUSD</text>
<text x="3429.9" y="853.9" font-size="29.3" fill="#fff" stroke="#fff" stroke-width="0.45" text-anchor="start" font-weight="normal" textLength="144.8" lengthAdjust="spacingAndGlyphs" >0.00001064</text>
<text x="3430.8" y="886.3" font-size="29.3" fill="#facbca" stroke="#facbca" stroke-width="0.45" text-anchor="start" font-weight="normal" textLength="109.0" lengthAdjust="spacingAndGlyphs" >13:37:28</text>
<g fill="#131722"><path d="M25.2,1614.5 H44.8 V1638.9 H34.9 V1624 H25.2 z"/><circle cx="52.8" cy="1619.7" r="5.2"/><path d="M59.6,1614.5 H73.6 L64,1638.9 H53 z"/></g>
<text x="82.1" y="1640.3" font-size="32.3" fill="#131722" stroke="#131722" stroke-width="0.45" text-anchor="start" font-weight="normal" textLength="179.0" lengthAdjust="spacing" >TradingView</text>
</svg>
</body></html>
